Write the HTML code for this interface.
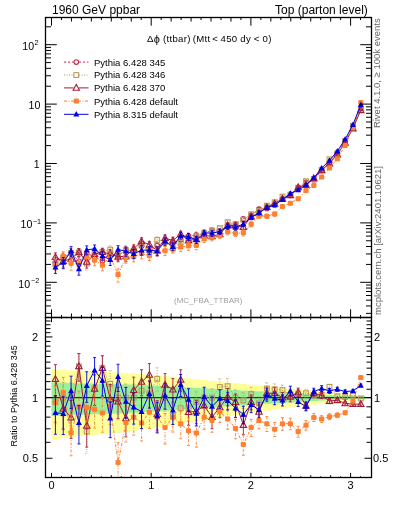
<!DOCTYPE html><html><head><meta charset="utf-8"><style>html,body{margin:0;padding:0;background:#fff;overflow:hidden;}svg{display:block;will-change:transform;}text{font-family:"Liberation Sans",sans-serif;}</style></head><body>
<svg width="393" height="512" viewBox="0 0 393 512">
<defs><clipPath id="cm"><rect x="45.5" y="17.5" width="326" height="300"/></clipPath><clipPath id="cr"><rect x="45.5" y="317.5" width="326" height="160"/></clipPath></defs>
<rect x="51.50" y="369.41" width="8.13" height="70.02" fill="#ffff99" clip-path="url(#cr)"/>
<rect x="59.33" y="370.07" width="8.13" height="67.94" fill="#ffff99" clip-path="url(#cr)"/>
<rect x="67.16" y="370.55" width="8.13" height="66.40" fill="#ffff99" clip-path="url(#cr)"/>
<rect x="74.99" y="370.93" width="8.13" height="65.21" fill="#ffff99" clip-path="url(#cr)"/>
<rect x="82.82" y="371.26" width="8.13" height="64.21" fill="#ffff99" clip-path="url(#cr)"/>
<rect x="90.65" y="371.56" width="8.13" height="63.28" fill="#ffff99" clip-path="url(#cr)"/>
<rect x="98.48" y="371.87" width="8.13" height="62.34" fill="#ffff99" clip-path="url(#cr)"/>
<rect x="106.31" y="372.21" width="8.13" height="61.31" fill="#ffff99" clip-path="url(#cr)"/>
<rect x="114.14" y="372.59" width="8.13" height="60.16" fill="#ffff99" clip-path="url(#cr)"/>
<rect x="121.97" y="373.03" width="8.13" height="58.85" fill="#ffff99" clip-path="url(#cr)"/>
<rect x="129.80" y="373.53" width="8.13" height="57.37" fill="#ffff99" clip-path="url(#cr)"/>
<rect x="137.63" y="374.10" width="8.13" height="55.73" fill="#ffff99" clip-path="url(#cr)"/>
<rect x="145.47" y="374.72" width="8.13" height="53.95" fill="#ffff99" clip-path="url(#cr)"/>
<rect x="153.30" y="375.39" width="8.13" height="52.04" fill="#ffff99" clip-path="url(#cr)"/>
<rect x="161.13" y="376.11" width="8.13" height="50.03" fill="#ffff99" clip-path="url(#cr)"/>
<rect x="168.96" y="376.87" width="8.13" height="47.95" fill="#ffff99" clip-path="url(#cr)"/>
<rect x="176.79" y="377.65" width="8.13" height="45.83" fill="#ffff99" clip-path="url(#cr)"/>
<rect x="184.62" y="378.45" width="8.13" height="43.69" fill="#ffff99" clip-path="url(#cr)"/>
<rect x="192.45" y="379.26" width="8.13" height="41.57" fill="#ffff99" clip-path="url(#cr)"/>
<rect x="200.28" y="380.07" width="8.13" height="39.48" fill="#ffff99" clip-path="url(#cr)"/>
<rect x="208.11" y="380.87" width="8.13" height="37.42" fill="#ffff99" clip-path="url(#cr)"/>
<rect x="215.94" y="381.67" width="8.13" height="35.42" fill="#ffff99" clip-path="url(#cr)"/>
<rect x="223.77" y="382.46" width="8.13" height="33.47" fill="#ffff99" clip-path="url(#cr)"/>
<rect x="231.60" y="383.23" width="8.13" height="31.57" fill="#ffff99" clip-path="url(#cr)"/>
<rect x="239.43" y="383.99" width="8.13" height="29.72" fill="#ffff99" clip-path="url(#cr)"/>
<rect x="247.26" y="384.75" width="8.13" height="27.91" fill="#ffff99" clip-path="url(#cr)"/>
<rect x="255.09" y="385.51" width="8.13" height="26.13" fill="#ffff99" clip-path="url(#cr)"/>
<rect x="262.92" y="386.27" width="8.13" height="24.36" fill="#ffff99" clip-path="url(#cr)"/>
<rect x="270.75" y="387.03" width="8.13" height="22.59" fill="#ffff99" clip-path="url(#cr)"/>
<rect x="278.58" y="387.81" width="8.13" height="20.81" fill="#ffff99" clip-path="url(#cr)"/>
<rect x="286.41" y="388.61" width="8.13" height="19.01" fill="#ffff99" clip-path="url(#cr)"/>
<rect x="294.24" y="389.43" width="8.13" height="17.19" fill="#ffff99" clip-path="url(#cr)"/>
<rect x="302.07" y="390.27" width="8.13" height="15.34" fill="#ffff99" clip-path="url(#cr)"/>
<rect x="309.90" y="391.12" width="8.13" height="13.48" fill="#ffff99" clip-path="url(#cr)"/>
<rect x="317.73" y="391.98" width="8.13" height="11.62" fill="#ffff99" clip-path="url(#cr)"/>
<rect x="325.56" y="392.84" width="8.13" height="9.80" fill="#ffff99" clip-path="url(#cr)"/>
<rect x="333.40" y="393.67" width="8.13" height="8.05" fill="#ffff99" clip-path="url(#cr)"/>
<rect x="341.23" y="394.46" width="8.13" height="6.41" fill="#ffff99" clip-path="url(#cr)"/>
<rect x="349.06" y="395.01" width="8.13" height="5.25" fill="#ffff99" clip-path="url(#cr)"/>
<rect x="356.89" y="395.01" width="8.13" height="5.25" fill="#ffff99" clip-path="url(#cr)"/>
<rect x="51.50" y="382.38" width="8.13" height="33.66" fill="#99f099" clip-path="url(#cr)"/>
<rect x="59.33" y="382.75" width="8.13" height="32.74" fill="#99f099" clip-path="url(#cr)"/>
<rect x="67.16" y="383.04" width="8.13" height="32.05" fill="#99f099" clip-path="url(#cr)"/>
<rect x="74.99" y="383.26" width="8.13" height="31.51" fill="#99f099" clip-path="url(#cr)"/>
<rect x="82.82" y="383.44" width="8.13" height="31.06" fill="#99f099" clip-path="url(#cr)"/>
<rect x="90.65" y="383.61" width="8.13" height="30.64" fill="#99f099" clip-path="url(#cr)"/>
<rect x="98.48" y="383.79" width="8.13" height="30.21" fill="#99f099" clip-path="url(#cr)"/>
<rect x="106.31" y="383.99" width="8.13" height="29.74" fill="#99f099" clip-path="url(#cr)"/>
<rect x="114.14" y="384.21" width="8.13" height="29.22" fill="#99f099" clip-path="url(#cr)"/>
<rect x="121.97" y="384.46" width="8.13" height="28.62" fill="#99f099" clip-path="url(#cr)"/>
<rect x="129.80" y="384.74" width="8.13" height="27.94" fill="#99f099" clip-path="url(#cr)"/>
<rect x="137.63" y="385.06" width="8.13" height="27.18" fill="#99f099" clip-path="url(#cr)"/>
<rect x="145.47" y="385.41" width="8.13" height="26.35" fill="#99f099" clip-path="url(#cr)"/>
<rect x="153.30" y="385.79" width="8.13" height="25.46" fill="#99f099" clip-path="url(#cr)"/>
<rect x="161.13" y="386.20" width="8.13" height="24.51" fill="#99f099" clip-path="url(#cr)"/>
<rect x="168.96" y="386.62" width="8.13" height="23.53" fill="#99f099" clip-path="url(#cr)"/>
<rect x="176.79" y="387.06" width="8.13" height="22.53" fill="#99f099" clip-path="url(#cr)"/>
<rect x="184.62" y="387.50" width="8.13" height="21.51" fill="#99f099" clip-path="url(#cr)"/>
<rect x="192.45" y="387.95" width="8.13" height="20.50" fill="#99f099" clip-path="url(#cr)"/>
<rect x="200.28" y="388.40" width="8.13" height="19.49" fill="#99f099" clip-path="url(#cr)"/>
<rect x="208.11" y="388.84" width="8.13" height="18.50" fill="#99f099" clip-path="url(#cr)"/>
<rect x="215.94" y="389.27" width="8.13" height="17.53" fill="#99f099" clip-path="url(#cr)"/>
<rect x="223.77" y="389.70" width="8.13" height="16.58" fill="#99f099" clip-path="url(#cr)"/>
<rect x="231.60" y="390.12" width="8.13" height="15.66" fill="#99f099" clip-path="url(#cr)"/>
<rect x="239.43" y="390.53" width="8.13" height="14.75" fill="#99f099" clip-path="url(#cr)"/>
<rect x="247.26" y="390.94" width="8.13" height="13.87" fill="#99f099" clip-path="url(#cr)"/>
<rect x="255.09" y="391.35" width="8.13" height="12.99" fill="#99f099" clip-path="url(#cr)"/>
<rect x="262.92" y="391.75" width="8.13" height="12.12" fill="#99f099" clip-path="url(#cr)"/>
<rect x="270.75" y="392.16" width="8.13" height="11.25" fill="#99f099" clip-path="url(#cr)"/>
<rect x="278.58" y="392.57" width="8.13" height="10.37" fill="#99f099" clip-path="url(#cr)"/>
<rect x="286.41" y="392.99" width="8.13" height="9.48" fill="#99f099" clip-path="url(#cr)"/>
<rect x="294.24" y="393.42" width="8.13" height="8.57" fill="#99f099" clip-path="url(#cr)"/>
<rect x="302.07" y="393.86" width="8.13" height="7.65" fill="#99f099" clip-path="url(#cr)"/>
<rect x="309.90" y="394.30" width="8.13" height="6.73" fill="#99f099" clip-path="url(#cr)"/>
<rect x="317.73" y="394.75" width="8.13" height="5.80" fill="#99f099" clip-path="url(#cr)"/>
<rect x="325.56" y="395.19" width="8.13" height="4.90" fill="#99f099" clip-path="url(#cr)"/>
<rect x="333.40" y="395.61" width="8.13" height="4.02" fill="#99f099" clip-path="url(#cr)"/>
<rect x="341.23" y="396.01" width="8.13" height="3.20" fill="#99f099" clip-path="url(#cr)"/>
<rect x="349.06" y="396.30" width="8.13" height="2.63" fill="#99f099" clip-path="url(#cr)"/>
<rect x="356.89" y="396.30" width="8.13" height="2.63" fill="#99f099" clip-path="url(#cr)"/>
<line x1="45.5" y1="397.60" x2="371.5" y2="397.60" stroke="#1a3a1a" stroke-width="1.3"/>
<g clip-path="url(#cm)"><polyline points="55.42,262.63 63.25,257.79 71.08,252.99 78.91,261.51 86.74,253.52 94.57,256.75 102.40,260.62 110.23,253.72 118.06,255.53 125.89,250.17 133.72,250.87 141.55,246.04 149.38,251.38 157.21,245.56 165.04,241.91 172.87,242.89 180.70,239.38 188.53,236.18 196.36,235.15 204.19,233.13 212.02,230.57 219.85,231.31 227.68,225.58 235.51,224.28 243.35,218.94 251.18,215.31 259.01,209.21 266.84,208.44 274.67,204.71 282.50,198.81 290.33,195.49 298.16,188.76 305.99,182.47 313.82,179.67 321.65,170.77 329.48,162.49 337.31,153.66 345.14,141.07 352.97,126.59 360.80,108.31" fill="none" stroke="#c8284f" stroke-width="1.0" stroke-dasharray="2.2,1.8"/><path d="M55.42,257.94V268.37M53.92,257.94h3M53.92,268.37h3" stroke="#c8284f" stroke-width="0.9" stroke-dasharray="2.2,1.8"/><path d="M63.25,253.21V263.35M61.75,253.21h3M61.75,263.35h3" stroke="#c8284f" stroke-width="0.9" stroke-dasharray="2.2,1.8"/><path d="M71.08,248.49V258.43M69.58,248.49h3M69.58,258.43h3" stroke="#c8284f" stroke-width="0.9" stroke-dasharray="2.2,1.8"/><path d="M78.91,257.09V266.85M77.41,257.09h3M77.41,266.85h3" stroke="#c8284f" stroke-width="0.9" stroke-dasharray="2.2,1.8"/><path d="M86.74,249.15V258.77M85.24,249.15h3M85.24,258.77h3" stroke="#c8284f" stroke-width="0.9" stroke-dasharray="2.2,1.8"/><path d="M94.57,252.43V261.93M93.07,252.43h3M93.07,261.93h3" stroke="#c8284f" stroke-width="0.9" stroke-dasharray="2.2,1.8"/><path d="M102.40,256.37V265.73M100.90,256.37h3M100.90,265.73h3" stroke="#c8284f" stroke-width="0.9" stroke-dasharray="2.2,1.8"/><path d="M110.23,249.52V258.74M108.73,249.52h3M108.73,258.74h3" stroke="#c8284f" stroke-width="0.9" stroke-dasharray="2.2,1.8"/><path d="M118.06,251.39V260.45M116.56,251.39h3M116.56,260.45h3" stroke="#c8284f" stroke-width="0.9" stroke-dasharray="2.2,1.8"/><path d="M125.89,246.11V254.98M124.39,246.11h3M124.39,254.98h3" stroke="#c8284f" stroke-width="0.9" stroke-dasharray="2.2,1.8"/><path d="M133.72,246.90V255.56M132.22,246.90h3M132.22,255.56h3" stroke="#c8284f" stroke-width="0.9" stroke-dasharray="2.2,1.8"/><path d="M141.55,242.17V250.59M140.05,242.17h3M140.05,250.59h3" stroke="#c8284f" stroke-width="0.9" stroke-dasharray="2.2,1.8"/><path d="M149.38,247.63V255.79M147.88,247.63h3M147.88,255.79h3" stroke="#c8284f" stroke-width="0.9" stroke-dasharray="2.2,1.8"/><path d="M157.21,241.92V249.81M155.71,241.92h3M155.71,249.81h3" stroke="#c8284f" stroke-width="0.9" stroke-dasharray="2.2,1.8"/><path d="M165.04,238.39V245.99M163.54,238.39h3M163.54,245.99h3" stroke="#c8284f" stroke-width="0.9" stroke-dasharray="2.2,1.8"/><path d="M172.87,239.50V246.79M171.37,239.50h3M171.37,246.79h3" stroke="#c8284f" stroke-width="0.9" stroke-dasharray="2.2,1.8"/><path d="M180.70,236.13V243.11M179.20,236.13h3M179.20,243.11h3" stroke="#c8284f" stroke-width="0.9" stroke-dasharray="2.2,1.8"/><path d="M188.53,233.06V239.72M187.03,233.06h3M187.03,239.72h3" stroke="#c8284f" stroke-width="0.9" stroke-dasharray="2.2,1.8"/><path d="M196.36,232.17V238.52M194.86,232.17h3M194.86,238.52h3" stroke="#c8284f" stroke-width="0.9" stroke-dasharray="2.2,1.8"/><path d="M204.19,230.29V236.32M202.69,230.29h3M202.69,236.32h3" stroke="#c8284f" stroke-width="0.9" stroke-dasharray="2.2,1.8"/><path d="M212.02,227.86V233.59M210.52,227.86h3M210.52,233.59h3" stroke="#c8284f" stroke-width="0.9" stroke-dasharray="2.2,1.8"/><path d="M219.85,228.74V234.17M218.35,228.74h3M218.35,234.17h3" stroke="#c8284f" stroke-width="0.9" stroke-dasharray="2.2,1.8"/><path d="M227.68,223.14V228.28M226.18,223.14h3M226.18,228.28h3" stroke="#c8284f" stroke-width="0.9" stroke-dasharray="2.2,1.8"/><path d="M235.51,221.97V226.82M234.01,221.97h3M234.01,226.82h3" stroke="#c8284f" stroke-width="0.9" stroke-dasharray="2.2,1.8"/><path d="M243.35,216.75V221.32M241.85,216.75h3M241.85,221.32h3" stroke="#c8284f" stroke-width="0.9" stroke-dasharray="2.2,1.8"/><path d="M251.18,213.25V217.54M249.68,213.25h3M249.68,217.54h3" stroke="#c8284f" stroke-width="0.9" stroke-dasharray="2.2,1.8"/><path d="M259.01,207.27V211.30M257.51,207.27h3M257.51,211.30h3" stroke="#c8284f" stroke-width="0.9" stroke-dasharray="2.2,1.8"/><path d="M266.84,206.63V210.38M265.34,206.63h3M265.34,210.38h3" stroke="#c8284f" stroke-width="0.9" stroke-dasharray="2.2,1.8"/><path d="M274.67,203.03V206.51M273.17,203.03h3M273.17,206.51h3" stroke="#c8284f" stroke-width="0.9" stroke-dasharray="2.2,1.8"/><path d="M282.50,197.26V200.47M281.00,197.26h3M281.00,200.47h3" stroke="#c8284f" stroke-width="0.9" stroke-dasharray="2.2,1.8"/><path d="M290.33,194.06V196.99M288.83,194.06h3M288.83,196.99h3" stroke="#c8284f" stroke-width="0.9" stroke-dasharray="2.2,1.8"/><path d="M298.16,187.47V190.12M296.66,187.47h3M296.66,190.12h3" stroke="#c8284f" stroke-width="0.9" stroke-dasharray="2.2,1.8"/><path d="M305.99,181.31V183.68M304.49,181.31h3M304.49,183.68h3" stroke="#c8284f" stroke-width="0.9" stroke-dasharray="2.2,1.8"/><path d="M313.82,178.65V180.73M312.32,178.65h3M312.32,180.73h3" stroke="#c8284f" stroke-width="0.9" stroke-dasharray="2.2,1.8"/><path d="M321.65,169.89V171.68M320.15,169.89h3M320.15,171.68h3" stroke="#c8284f" stroke-width="0.9" stroke-dasharray="2.2,1.8"/><path d="M329.48,161.74V163.25M327.98,161.74h3M327.98,163.25h3" stroke="#c8284f" stroke-width="0.9" stroke-dasharray="2.2,1.8"/><path d="M337.31,153.04V154.29M335.81,153.04h3M335.81,154.29h3" stroke="#c8284f" stroke-width="0.9" stroke-dasharray="2.2,1.8"/><path d="M345.14,140.58V141.57M343.64,140.58h3M343.64,141.57h3" stroke="#c8284f" stroke-width="0.9" stroke-dasharray="2.2,1.8"/><path d="M352.97,126.18V126.99M351.47,126.18h3M351.47,126.99h3" stroke="#c8284f" stroke-width="0.9" stroke-dasharray="2.2,1.8"/><path d="M360.80,107.90V108.71M359.30,107.90h3M359.30,108.71h3" stroke="#c8284f" stroke-width="0.9" stroke-dasharray="2.2,1.8"/><circle cx="55.42" cy="262.63" r="2.3" fill="none" stroke="#c8284f" stroke-width="1.1"/><circle cx="63.25" cy="257.79" r="2.3" fill="none" stroke="#c8284f" stroke-width="1.1"/><circle cx="71.08" cy="252.99" r="2.3" fill="none" stroke="#c8284f" stroke-width="1.1"/><circle cx="78.91" cy="261.51" r="2.3" fill="none" stroke="#c8284f" stroke-width="1.1"/><circle cx="86.74" cy="253.52" r="2.3" fill="none" stroke="#c8284f" stroke-width="1.1"/><circle cx="94.57" cy="256.75" r="2.3" fill="none" stroke="#c8284f" stroke-width="1.1"/><circle cx="102.40" cy="260.62" r="2.3" fill="none" stroke="#c8284f" stroke-width="1.1"/><circle cx="110.23" cy="253.72" r="2.3" fill="none" stroke="#c8284f" stroke-width="1.1"/><circle cx="118.06" cy="255.53" r="2.3" fill="none" stroke="#c8284f" stroke-width="1.1"/><circle cx="125.89" cy="250.17" r="2.3" fill="none" stroke="#c8284f" stroke-width="1.1"/><circle cx="133.72" cy="250.87" r="2.3" fill="none" stroke="#c8284f" stroke-width="1.1"/><circle cx="141.55" cy="246.04" r="2.3" fill="none" stroke="#c8284f" stroke-width="1.1"/><circle cx="149.38" cy="251.38" r="2.3" fill="none" stroke="#c8284f" stroke-width="1.1"/><circle cx="157.21" cy="245.56" r="2.3" fill="none" stroke="#c8284f" stroke-width="1.1"/><circle cx="165.04" cy="241.91" r="2.3" fill="none" stroke="#c8284f" stroke-width="1.1"/><circle cx="172.87" cy="242.89" r="2.3" fill="none" stroke="#c8284f" stroke-width="1.1"/><circle cx="180.70" cy="239.38" r="2.3" fill="none" stroke="#c8284f" stroke-width="1.1"/><circle cx="188.53" cy="236.18" r="2.3" fill="none" stroke="#c8284f" stroke-width="1.1"/><circle cx="196.36" cy="235.15" r="2.3" fill="none" stroke="#c8284f" stroke-width="1.1"/><circle cx="204.19" cy="233.13" r="2.3" fill="none" stroke="#c8284f" stroke-width="1.1"/><circle cx="212.02" cy="230.57" r="2.3" fill="none" stroke="#c8284f" stroke-width="1.1"/><circle cx="219.85" cy="231.31" r="2.3" fill="none" stroke="#c8284f" stroke-width="1.1"/><circle cx="227.68" cy="225.58" r="2.3" fill="none" stroke="#c8284f" stroke-width="1.1"/><circle cx="235.51" cy="224.28" r="2.3" fill="none" stroke="#c8284f" stroke-width="1.1"/><circle cx="243.35" cy="218.94" r="2.3" fill="none" stroke="#c8284f" stroke-width="1.1"/><circle cx="251.18" cy="215.31" r="2.3" fill="none" stroke="#c8284f" stroke-width="1.1"/><circle cx="259.01" cy="209.21" r="2.3" fill="none" stroke="#c8284f" stroke-width="1.1"/><circle cx="266.84" cy="208.44" r="2.3" fill="none" stroke="#c8284f" stroke-width="1.1"/><circle cx="274.67" cy="204.71" r="2.3" fill="none" stroke="#c8284f" stroke-width="1.1"/><circle cx="282.50" cy="198.81" r="2.3" fill="none" stroke="#c8284f" stroke-width="1.1"/><circle cx="290.33" cy="195.49" r="2.3" fill="none" stroke="#c8284f" stroke-width="1.1"/><circle cx="298.16" cy="188.76" r="2.3" fill="none" stroke="#c8284f" stroke-width="1.1"/><circle cx="305.99" cy="182.47" r="2.3" fill="none" stroke="#c8284f" stroke-width="1.1"/><circle cx="313.82" cy="179.67" r="2.3" fill="none" stroke="#c8284f" stroke-width="1.1"/><circle cx="321.65" cy="170.77" r="2.3" fill="none" stroke="#c8284f" stroke-width="1.1"/><circle cx="329.48" cy="162.49" r="2.3" fill="none" stroke="#c8284f" stroke-width="1.1"/><circle cx="337.31" cy="153.66" r="2.3" fill="none" stroke="#c8284f" stroke-width="1.1"/><circle cx="345.14" cy="141.07" r="2.3" fill="none" stroke="#c8284f" stroke-width="1.1"/><circle cx="352.97" cy="126.59" r="2.3" fill="none" stroke="#c8284f" stroke-width="1.1"/><circle cx="360.80" cy="108.31" r="2.3" fill="none" stroke="#c8284f" stroke-width="1.1"/></g>
<g clip-path="url(#cm)"><polyline points="55.42,263.96 63.25,257.79 71.08,252.99 78.91,252.29 86.74,263.54 94.57,254.17 102.40,251.94 110.23,249.67 118.06,255.53 125.89,250.17 133.72,250.87 141.55,243.98 149.38,250.13 157.21,240.04 165.04,241.91 172.87,248.32 180.70,242.51 188.53,239.30 196.36,236.47 204.19,233.13 212.02,230.57 219.85,228.21 227.68,222.22 235.51,224.28 243.35,219.72 251.18,214.27 259.01,210.91 266.84,205.77 274.67,202.26 282.50,196.59 290.33,194.72 298.16,187.75 305.99,181.18 313.82,178.91 321.65,170.01 329.48,159.31 337.31,153.27 345.14,140.92 352.97,125.75 360.80,108.56" fill="none" stroke="#bb9a5c" stroke-width="1.0" stroke-dasharray="1,1.5"/><path d="M55.42,259.15V269.86M53.92,259.15h3M53.92,269.86h3" stroke="#bb9a5c" stroke-width="0.9" stroke-dasharray="1,1.5"/><path d="M63.25,253.21V263.35M61.75,253.21h3M61.75,263.35h3" stroke="#bb9a5c" stroke-width="0.9" stroke-dasharray="1,1.5"/><path d="M71.08,248.49V258.43M69.58,248.49h3M69.58,258.43h3" stroke="#bb9a5c" stroke-width="0.9" stroke-dasharray="1,1.5"/><path d="M78.91,248.54V256.67M77.41,248.54h3M77.41,256.67h3" stroke="#bb9a5c" stroke-width="0.9" stroke-dasharray="1,1.5"/><path d="M86.74,258.33V270.08M85.24,258.33h3M85.24,270.08h3" stroke="#bb9a5c" stroke-width="0.9" stroke-dasharray="1,1.5"/><path d="M94.57,250.05V259.07M93.07,250.05h3M93.07,259.07h3" stroke="#bb9a5c" stroke-width="0.9" stroke-dasharray="1,1.5"/><path d="M102.40,248.30V256.19M100.90,248.30h3M100.90,256.19h3" stroke="#bb9a5c" stroke-width="0.9" stroke-dasharray="1,1.5"/><path d="M110.23,245.76V254.27M108.73,245.76h3M108.73,254.27h3" stroke="#bb9a5c" stroke-width="0.9" stroke-dasharray="1,1.5"/><path d="M118.06,251.39V260.45M116.56,251.39h3M116.56,260.45h3" stroke="#bb9a5c" stroke-width="0.9" stroke-dasharray="1,1.5"/><path d="M125.89,246.11V254.98M124.39,246.11h3M124.39,254.98h3" stroke="#bb9a5c" stroke-width="0.9" stroke-dasharray="1,1.5"/><path d="M133.72,246.90V255.56M132.22,246.90h3M132.22,255.56h3" stroke="#bb9a5c" stroke-width="0.9" stroke-dasharray="1,1.5"/><path d="M141.55,240.25V248.34M140.05,240.25h3M140.05,248.34h3" stroke="#bb9a5c" stroke-width="0.9" stroke-dasharray="1,1.5"/><path d="M149.38,246.45V254.41M147.88,246.45h3M147.88,254.41h3" stroke="#bb9a5c" stroke-width="0.9" stroke-dasharray="1,1.5"/><path d="M157.21,236.74V243.81M155.71,236.74h3M155.71,243.81h3" stroke="#bb9a5c" stroke-width="0.9" stroke-dasharray="1,1.5"/><path d="M165.04,238.39V245.99M163.54,238.39h3M163.54,245.99h3" stroke="#bb9a5c" stroke-width="0.9" stroke-dasharray="1,1.5"/><path d="M172.87,244.59V252.70M171.37,244.59h3M171.37,252.70h3" stroke="#bb9a5c" stroke-width="0.9" stroke-dasharray="1,1.5"/><path d="M180.70,239.06V246.48M179.20,239.06h3M179.20,246.48h3" stroke="#bb9a5c" stroke-width="0.9" stroke-dasharray="1,1.5"/><path d="M188.53,236.00V243.08M187.03,236.00h3M187.03,243.08h3" stroke="#bb9a5c" stroke-width="0.9" stroke-dasharray="1,1.5"/><path d="M196.36,233.42V239.93M194.86,233.42h3M194.86,239.93h3" stroke="#bb9a5c" stroke-width="0.9" stroke-dasharray="1,1.5"/><path d="M204.19,230.29V236.32M202.69,230.29h3M202.69,236.32h3" stroke="#bb9a5c" stroke-width="0.9" stroke-dasharray="1,1.5"/><path d="M212.02,227.86V233.59M210.52,227.86h3M210.52,233.59h3" stroke="#bb9a5c" stroke-width="0.9" stroke-dasharray="1,1.5"/><path d="M219.85,225.78V230.89M218.35,225.78h3M218.35,230.89h3" stroke="#bb9a5c" stroke-width="0.9" stroke-dasharray="1,1.5"/><path d="M227.68,219.93V224.74M226.18,219.93h3M226.18,224.74h3" stroke="#bb9a5c" stroke-width="0.9" stroke-dasharray="1,1.5"/><path d="M235.51,221.97V226.82M234.01,221.97h3M234.01,226.82h3" stroke="#bb9a5c" stroke-width="0.9" stroke-dasharray="1,1.5"/><path d="M243.35,217.51V222.15M241.85,217.51h3M241.85,222.15h3" stroke="#bb9a5c" stroke-width="0.9" stroke-dasharray="1,1.5"/><path d="M251.18,212.25V216.46M249.68,212.25h3M249.68,216.46h3" stroke="#bb9a5c" stroke-width="0.9" stroke-dasharray="1,1.5"/><path d="M259.01,208.92V213.08M257.51,208.92h3M257.51,213.08h3" stroke="#bb9a5c" stroke-width="0.9" stroke-dasharray="1,1.5"/><path d="M266.84,204.05V207.61M265.34,204.05h3M265.34,207.61h3" stroke="#bb9a5c" stroke-width="0.9" stroke-dasharray="1,1.5"/><path d="M274.67,200.65V203.97M273.17,200.65h3M273.17,203.97h3" stroke="#bb9a5c" stroke-width="0.9" stroke-dasharray="1,1.5"/><path d="M282.50,195.10V198.17M281.00,195.10h3M281.00,198.17h3" stroke="#bb9a5c" stroke-width="0.9" stroke-dasharray="1,1.5"/><path d="M290.33,193.32V196.21M288.83,193.32h3M288.83,196.21h3" stroke="#bb9a5c" stroke-width="0.9" stroke-dasharray="1,1.5"/><path d="M298.16,186.48V189.08M296.66,186.48h3M296.66,189.08h3" stroke="#bb9a5c" stroke-width="0.9" stroke-dasharray="1,1.5"/><path d="M305.99,180.05V182.37M304.49,180.05h3M304.49,182.37h3" stroke="#bb9a5c" stroke-width="0.9" stroke-dasharray="1,1.5"/><path d="M313.82,177.90V179.95M312.32,177.90h3M312.32,179.95h3" stroke="#bb9a5c" stroke-width="0.9" stroke-dasharray="1,1.5"/><path d="M321.65,169.14V170.91M320.15,169.14h3M320.15,170.91h3" stroke="#bb9a5c" stroke-width="0.9" stroke-dasharray="1,1.5"/><path d="M329.48,158.61V160.03M327.98,158.61h3M327.98,160.03h3" stroke="#bb9a5c" stroke-width="0.9" stroke-dasharray="1,1.5"/><path d="M337.31,152.66V153.90M335.81,152.66h3M335.81,153.90h3" stroke="#bb9a5c" stroke-width="0.9" stroke-dasharray="1,1.5"/><path d="M345.14,140.43V141.41M343.64,140.43h3M343.64,141.41h3" stroke="#bb9a5c" stroke-width="0.9" stroke-dasharray="1,1.5"/><path d="M352.97,125.35V126.15M351.47,125.35h3M351.47,126.15h3" stroke="#bb9a5c" stroke-width="0.9" stroke-dasharray="1,1.5"/><path d="M360.80,108.16V108.98M359.30,108.16h3M359.30,108.98h3" stroke="#bb9a5c" stroke-width="0.9" stroke-dasharray="1,1.5"/><rect x="53.02" y="261.56" width="4.8" height="4.8" fill="none" stroke="#bb9a5c" stroke-width="1.1"/><rect x="60.85" y="255.39" width="4.8" height="4.8" fill="none" stroke="#bb9a5c" stroke-width="1.1"/><rect x="68.68" y="250.59" width="4.8" height="4.8" fill="none" stroke="#bb9a5c" stroke-width="1.1"/><rect x="76.51" y="249.89" width="4.8" height="4.8" fill="none" stroke="#bb9a5c" stroke-width="1.1"/><rect x="84.34" y="261.14" width="4.8" height="4.8" fill="none" stroke="#bb9a5c" stroke-width="1.1"/><rect x="92.17" y="251.77" width="4.8" height="4.8" fill="none" stroke="#bb9a5c" stroke-width="1.1"/><rect x="100.00" y="249.54" width="4.8" height="4.8" fill="none" stroke="#bb9a5c" stroke-width="1.1"/><rect x="107.83" y="247.27" width="4.8" height="4.8" fill="none" stroke="#bb9a5c" stroke-width="1.1"/><rect x="115.66" y="253.13" width="4.8" height="4.8" fill="none" stroke="#bb9a5c" stroke-width="1.1"/><rect x="123.49" y="247.77" width="4.8" height="4.8" fill="none" stroke="#bb9a5c" stroke-width="1.1"/><rect x="131.32" y="248.47" width="4.8" height="4.8" fill="none" stroke="#bb9a5c" stroke-width="1.1"/><rect x="139.15" y="241.58" width="4.8" height="4.8" fill="none" stroke="#bb9a5c" stroke-width="1.1"/><rect x="146.98" y="247.73" width="4.8" height="4.8" fill="none" stroke="#bb9a5c" stroke-width="1.1"/><rect x="154.81" y="237.64" width="4.8" height="4.8" fill="none" stroke="#bb9a5c" stroke-width="1.1"/><rect x="162.64" y="239.51" width="4.8" height="4.8" fill="none" stroke="#bb9a5c" stroke-width="1.1"/><rect x="170.47" y="245.92" width="4.8" height="4.8" fill="none" stroke="#bb9a5c" stroke-width="1.1"/><rect x="178.30" y="240.11" width="4.8" height="4.8" fill="none" stroke="#bb9a5c" stroke-width="1.1"/><rect x="186.13" y="236.90" width="4.8" height="4.8" fill="none" stroke="#bb9a5c" stroke-width="1.1"/><rect x="193.96" y="234.07" width="4.8" height="4.8" fill="none" stroke="#bb9a5c" stroke-width="1.1"/><rect x="201.79" y="230.73" width="4.8" height="4.8" fill="none" stroke="#bb9a5c" stroke-width="1.1"/><rect x="209.62" y="228.17" width="4.8" height="4.8" fill="none" stroke="#bb9a5c" stroke-width="1.1"/><rect x="217.45" y="225.81" width="4.8" height="4.8" fill="none" stroke="#bb9a5c" stroke-width="1.1"/><rect x="225.28" y="219.82" width="4.8" height="4.8" fill="none" stroke="#bb9a5c" stroke-width="1.1"/><rect x="233.11" y="221.88" width="4.8" height="4.8" fill="none" stroke="#bb9a5c" stroke-width="1.1"/><rect x="240.95" y="217.32" width="4.8" height="4.8" fill="none" stroke="#bb9a5c" stroke-width="1.1"/><rect x="248.78" y="211.87" width="4.8" height="4.8" fill="none" stroke="#bb9a5c" stroke-width="1.1"/><rect x="256.61" y="208.51" width="4.8" height="4.8" fill="none" stroke="#bb9a5c" stroke-width="1.1"/><rect x="264.44" y="203.37" width="4.8" height="4.8" fill="none" stroke="#bb9a5c" stroke-width="1.1"/><rect x="272.27" y="199.86" width="4.8" height="4.8" fill="none" stroke="#bb9a5c" stroke-width="1.1"/><rect x="280.10" y="194.19" width="4.8" height="4.8" fill="none" stroke="#bb9a5c" stroke-width="1.1"/><rect x="287.93" y="192.32" width="4.8" height="4.8" fill="none" stroke="#bb9a5c" stroke-width="1.1"/><rect x="295.76" y="185.35" width="4.8" height="4.8" fill="none" stroke="#bb9a5c" stroke-width="1.1"/><rect x="303.59" y="178.78" width="4.8" height="4.8" fill="none" stroke="#bb9a5c" stroke-width="1.1"/><rect x="311.42" y="176.51" width="4.8" height="4.8" fill="none" stroke="#bb9a5c" stroke-width="1.1"/><rect x="319.25" y="167.61" width="4.8" height="4.8" fill="none" stroke="#bb9a5c" stroke-width="1.1"/><rect x="327.08" y="156.91" width="4.8" height="4.8" fill="none" stroke="#bb9a5c" stroke-width="1.1"/><rect x="334.91" y="150.87" width="4.8" height="4.8" fill="none" stroke="#bb9a5c" stroke-width="1.1"/><rect x="342.74" y="138.52" width="4.8" height="4.8" fill="none" stroke="#bb9a5c" stroke-width="1.1"/><rect x="350.57" y="123.35" width="4.8" height="4.8" fill="none" stroke="#bb9a5c" stroke-width="1.1"/><rect x="358.40" y="106.16" width="4.8" height="4.8" fill="none" stroke="#bb9a5c" stroke-width="1.1"/></g>
<g clip-path="url(#cm)"><polyline points="55.42,257.17 63.25,261.08 71.08,258.84 78.91,252.29 86.74,261.81 94.57,254.17 102.40,251.94 110.23,254.08 118.06,256.71 125.89,256.25 133.72,248.64 141.55,241.38 149.38,244.70 157.21,250.43 165.04,238.13 172.87,240.52 180.70,234.15 188.53,240.46 196.36,239.19 204.19,235.51 212.02,236.32 219.85,234.18 227.68,225.35 235.51,225.60 243.35,227.02 251.18,216.63 259.01,213.40 266.84,207.15 274.67,203.43 282.50,198.81 290.33,195.23 298.16,187.23 305.99,184.87 313.82,178.41 321.65,170.16 329.48,163.48 337.31,154.44 345.14,142.78 352.97,128.51 360.80,110.23" fill="none" stroke="#a01e3c" stroke-width="1.0"/><path d="M55.42,252.91V262.27M53.92,252.91h3M53.92,262.27h3" stroke="#a01e3c" stroke-width="0.9"/><path d="M63.25,256.23V267.07M61.75,256.23h3M61.75,267.07h3" stroke="#a01e3c" stroke-width="0.9"/><path d="M71.08,253.86V265.02M69.58,253.86h3M69.58,265.02h3" stroke="#a01e3c" stroke-width="0.9"/><path d="M78.91,248.54V256.67M77.41,248.54h3M77.41,256.67h3" stroke="#a01e3c" stroke-width="0.9"/><path d="M86.74,256.75V268.11M85.24,256.75h3M85.24,268.11h3" stroke="#a01e3c" stroke-width="0.9"/><path d="M94.57,250.05V259.07M93.07,250.05h3M93.07,259.07h3" stroke="#a01e3c" stroke-width="0.9"/><path d="M102.40,248.30V256.19M100.90,248.30h3M100.90,256.19h3" stroke="#a01e3c" stroke-width="0.9"/><path d="M110.23,249.86V259.14M108.73,249.86h3M108.73,259.14h3" stroke="#a01e3c" stroke-width="0.9"/><path d="M118.06,252.49V261.76M116.56,252.49h3M116.56,261.76h3" stroke="#a01e3c" stroke-width="0.9"/><path d="M125.89,251.73V261.73M124.39,251.73h3M124.39,261.73h3" stroke="#a01e3c" stroke-width="0.9"/><path d="M133.72,244.83V253.12M132.22,244.83h3M132.22,253.12h3" stroke="#a01e3c" stroke-width="0.9"/><path d="M141.55,237.82V245.50M140.05,237.82h3M140.05,245.50h3" stroke="#a01e3c" stroke-width="0.9"/><path d="M149.38,241.37V248.52M147.88,241.37h3M147.88,248.52h3" stroke="#a01e3c" stroke-width="0.9"/><path d="M157.21,246.46V255.14M155.71,246.46h3M155.71,255.14h3" stroke="#a01e3c" stroke-width="0.9"/><path d="M165.04,234.84V241.89M163.54,234.84h3M163.54,241.89h3" stroke="#a01e3c" stroke-width="0.9"/><path d="M172.87,237.28V244.24M171.37,237.28h3M171.37,244.24h3" stroke="#a01e3c" stroke-width="0.9"/><path d="M180.70,231.19V237.49M179.20,231.19h3M179.20,237.49h3" stroke="#a01e3c" stroke-width="0.9"/><path d="M188.53,237.09V244.34M187.03,237.09h3M187.03,244.34h3" stroke="#a01e3c" stroke-width="0.9"/><path d="M196.36,235.98V242.85M194.86,235.98h3M194.86,242.85h3" stroke="#a01e3c" stroke-width="0.9"/><path d="M204.19,232.54V238.86M202.69,232.54h3M202.69,238.86h3" stroke="#a01e3c" stroke-width="0.9"/><path d="M212.02,233.32V239.73M210.52,233.32h3M210.52,239.73h3" stroke="#a01e3c" stroke-width="0.9"/><path d="M219.85,231.47V237.21M218.35,231.47h3M218.35,237.21h3" stroke="#a01e3c" stroke-width="0.9"/><path d="M227.68,222.92V228.03M226.18,222.92h3M226.18,228.03h3" stroke="#a01e3c" stroke-width="0.9"/><path d="M235.51,223.23V228.21M234.01,223.23h3M234.01,228.21h3" stroke="#a01e3c" stroke-width="0.9"/><path d="M243.35,224.48V229.83M241.85,224.48h3M241.85,229.83h3" stroke="#a01e3c" stroke-width="0.9"/><path d="M251.18,214.52V218.92M249.68,214.52h3M249.68,218.92h3" stroke="#a01e3c" stroke-width="0.9"/><path d="M259.01,211.31V215.67M257.51,211.31h3M257.51,215.67h3" stroke="#a01e3c" stroke-width="0.9"/><path d="M266.84,205.39V209.05M265.34,205.39h3M265.34,209.05h3" stroke="#a01e3c" stroke-width="0.9"/><path d="M274.67,201.79V205.19M273.17,201.79h3M273.17,205.19h3" stroke="#a01e3c" stroke-width="0.9"/><path d="M282.50,197.26V200.47M281.00,197.26h3M281.00,200.47h3" stroke="#a01e3c" stroke-width="0.9"/><path d="M290.33,193.81V196.73M288.83,193.81h3M288.83,196.73h3" stroke="#a01e3c" stroke-width="0.9"/><path d="M298.16,185.97V188.55M296.66,185.97h3M296.66,188.55h3" stroke="#a01e3c" stroke-width="0.9"/><path d="M305.99,183.66V186.14M304.49,183.66h3M304.49,186.14h3" stroke="#a01e3c" stroke-width="0.9"/><path d="M313.82,177.41V179.45M312.32,177.41h3M312.32,179.45h3" stroke="#a01e3c" stroke-width="0.9"/><path d="M321.65,169.28V171.06M320.15,169.28h3M320.15,171.06h3" stroke="#a01e3c" stroke-width="0.9"/><path d="M329.48,162.72V164.27M327.98,162.72h3M327.98,164.27h3" stroke="#a01e3c" stroke-width="0.9"/><path d="M337.31,153.82V155.08M335.81,153.82h3M335.81,155.08h3" stroke="#a01e3c" stroke-width="0.9"/><path d="M345.14,142.27V143.29M343.64,142.27h3M343.64,143.29h3" stroke="#a01e3c" stroke-width="0.9"/><path d="M352.97,128.09V128.94M351.47,128.09h3M351.47,128.94h3" stroke="#a01e3c" stroke-width="0.9"/><path d="M360.80,109.81V110.66M359.30,109.81h3M359.30,110.66h3" stroke="#a01e3c" stroke-width="0.9"/><path d="M55.42,253.77 L58.62,259.57 L52.22,259.57 Z" fill="none" stroke="#a01e3c" stroke-width="1.1"/><path d="M63.25,257.68 L66.45,263.48 L60.05,263.48 Z" fill="none" stroke="#a01e3c" stroke-width="1.1"/><path d="M71.08,255.44 L74.28,261.24 L67.88,261.24 Z" fill="none" stroke="#a01e3c" stroke-width="1.1"/><path d="M78.91,248.89 L82.11,254.69 L75.71,254.69 Z" fill="none" stroke="#a01e3c" stroke-width="1.1"/><path d="M86.74,258.41 L89.94,264.21 L83.54,264.21 Z" fill="none" stroke="#a01e3c" stroke-width="1.1"/><path d="M94.57,250.77 L97.77,256.57 L91.37,256.57 Z" fill="none" stroke="#a01e3c" stroke-width="1.1"/><path d="M102.40,248.54 L105.60,254.34 L99.20,254.34 Z" fill="none" stroke="#a01e3c" stroke-width="1.1"/><path d="M110.23,250.68 L113.43,256.48 L107.03,256.48 Z" fill="none" stroke="#a01e3c" stroke-width="1.1"/><path d="M118.06,253.31 L121.26,259.11 L114.86,259.11 Z" fill="none" stroke="#a01e3c" stroke-width="1.1"/><path d="M125.89,252.85 L129.09,258.65 L122.69,258.65 Z" fill="none" stroke="#a01e3c" stroke-width="1.1"/><path d="M133.72,245.24 L136.92,251.04 L130.52,251.04 Z" fill="none" stroke="#a01e3c" stroke-width="1.1"/><path d="M141.55,237.98 L144.75,243.78 L138.35,243.78 Z" fill="none" stroke="#a01e3c" stroke-width="1.1"/><path d="M149.38,241.30 L152.58,247.10 L146.18,247.10 Z" fill="none" stroke="#a01e3c" stroke-width="1.1"/><path d="M157.21,247.03 L160.41,252.83 L154.01,252.83 Z" fill="none" stroke="#a01e3c" stroke-width="1.1"/><path d="M165.04,234.73 L168.24,240.53 L161.84,240.53 Z" fill="none" stroke="#a01e3c" stroke-width="1.1"/><path d="M172.87,237.12 L176.07,242.92 L169.67,242.92 Z" fill="none" stroke="#a01e3c" stroke-width="1.1"/><path d="M180.70,230.75 L183.90,236.55 L177.50,236.55 Z" fill="none" stroke="#a01e3c" stroke-width="1.1"/><path d="M188.53,237.06 L191.73,242.86 L185.33,242.86 Z" fill="none" stroke="#a01e3c" stroke-width="1.1"/><path d="M196.36,235.79 L199.56,241.59 L193.16,241.59 Z" fill="none" stroke="#a01e3c" stroke-width="1.1"/><path d="M204.19,232.11 L207.39,237.91 L200.99,237.91 Z" fill="none" stroke="#a01e3c" stroke-width="1.1"/><path d="M212.02,232.92 L215.22,238.72 L208.82,238.72 Z" fill="none" stroke="#a01e3c" stroke-width="1.1"/><path d="M219.85,230.78 L223.05,236.58 L216.65,236.58 Z" fill="none" stroke="#a01e3c" stroke-width="1.1"/><path d="M227.68,221.95 L230.88,227.75 L224.48,227.75 Z" fill="none" stroke="#a01e3c" stroke-width="1.1"/><path d="M235.51,222.20 L238.71,228.00 L232.31,228.00 Z" fill="none" stroke="#a01e3c" stroke-width="1.1"/><path d="M243.35,223.62 L246.55,229.42 L240.15,229.42 Z" fill="none" stroke="#a01e3c" stroke-width="1.1"/><path d="M251.18,213.23 L254.38,219.03 L247.98,219.03 Z" fill="none" stroke="#a01e3c" stroke-width="1.1"/><path d="M259.01,210.00 L262.21,215.80 L255.81,215.80 Z" fill="none" stroke="#a01e3c" stroke-width="1.1"/><path d="M266.84,203.75 L270.04,209.55 L263.64,209.55 Z" fill="none" stroke="#a01e3c" stroke-width="1.1"/><path d="M274.67,200.03 L277.87,205.83 L271.47,205.83 Z" fill="none" stroke="#a01e3c" stroke-width="1.1"/><path d="M282.50,195.41 L285.70,201.21 L279.30,201.21 Z" fill="none" stroke="#a01e3c" stroke-width="1.1"/><path d="M290.33,191.83 L293.53,197.63 L287.13,197.63 Z" fill="none" stroke="#a01e3c" stroke-width="1.1"/><path d="M298.16,183.83 L301.36,189.63 L294.96,189.63 Z" fill="none" stroke="#a01e3c" stroke-width="1.1"/><path d="M305.99,181.47 L309.19,187.27 L302.79,187.27 Z" fill="none" stroke="#a01e3c" stroke-width="1.1"/><path d="M313.82,175.01 L317.02,180.81 L310.62,180.81 Z" fill="none" stroke="#a01e3c" stroke-width="1.1"/><path d="M321.65,166.76 L324.85,172.56 L318.45,172.56 Z" fill="none" stroke="#a01e3c" stroke-width="1.1"/><path d="M329.48,160.08 L332.68,165.88 L326.28,165.88 Z" fill="none" stroke="#a01e3c" stroke-width="1.1"/><path d="M337.31,151.04 L340.51,156.84 L334.11,156.84 Z" fill="none" stroke="#a01e3c" stroke-width="1.1"/><path d="M345.14,139.38 L348.34,145.18 L341.94,145.18 Z" fill="none" stroke="#a01e3c" stroke-width="1.1"/><path d="M352.97,125.11 L356.17,130.91 L349.77,130.91 Z" fill="none" stroke="#a01e3c" stroke-width="1.1"/><path d="M360.80,106.83 L364.00,112.63 L357.60,112.63 Z" fill="none" stroke="#a01e3c" stroke-width="1.1"/></g>
<g clip-path="url(#cm)"><polyline points="55.42,264.12 63.25,256.26 71.08,263.32 78.91,264.23 86.74,256.38 94.57,260.16 102.40,265.18 110.23,256.29 118.06,274.62 125.89,257.59 133.72,256.62 141.55,253.49 149.38,255.67 157.21,251.32 165.04,250.71 172.87,248.65 180.70,247.12 188.53,245.94 196.36,245.56 204.19,238.89 212.02,237.31 219.85,235.51 227.68,231.86 235.51,233.37 243.35,232.77 251.18,224.14 259.01,215.98 266.84,216.14 274.67,214.03 282.50,206.51 290.33,203.18 298.16,198.78 305.99,190.62 313.82,185.52 321.65,177.08 329.48,168.11 337.31,158.84 345.14,145.54 352.97,127.58 360.80,102.40" fill="none" stroke="#ff8030" stroke-width="1.0" stroke-dasharray="3,1.5,1,1.5"/><path d="M55.42,259.30V270.05M53.92,259.30h3M53.92,270.05h3" stroke="#ff8030" stroke-width="0.9" stroke-dasharray="3,1.5,1,1.5"/><path d="M63.25,251.80V261.65M61.75,251.80h3M61.75,261.65h3" stroke="#ff8030" stroke-width="0.9" stroke-dasharray="3,1.5,1,1.5"/><path d="M71.08,257.93V270.14M69.58,257.93h3M69.58,270.14h3" stroke="#ff8030" stroke-width="0.9" stroke-dasharray="3,1.5,1,1.5"/><path d="M78.91,259.59V269.90M77.41,259.59h3M77.41,269.90h3" stroke="#ff8030" stroke-width="0.9" stroke-dasharray="3,1.5,1,1.5"/><path d="M86.74,251.78V261.97M85.24,251.78h3M85.24,261.97h3" stroke="#ff8030" stroke-width="0.9" stroke-dasharray="3,1.5,1,1.5"/><path d="M94.57,255.58V265.74M93.07,255.58h3M93.07,265.74h3" stroke="#ff8030" stroke-width="0.9" stroke-dasharray="3,1.5,1,1.5"/><path d="M102.40,260.56V270.81M100.90,260.56h3M100.90,270.81h3" stroke="#ff8030" stroke-width="0.9" stroke-dasharray="3,1.5,1,1.5"/><path d="M110.23,251.90V261.60M108.73,251.90h3M108.73,261.60h3" stroke="#ff8030" stroke-width="0.9" stroke-dasharray="3,1.5,1,1.5"/><path d="M118.06,268.83V282.09M116.56,268.83h3M116.56,282.09h3" stroke="#ff8030" stroke-width="0.9" stroke-dasharray="3,1.5,1,1.5"/><path d="M125.89,252.96V263.23M124.39,252.96h3M124.39,263.23h3" stroke="#ff8030" stroke-width="0.9" stroke-dasharray="3,1.5,1,1.5"/><path d="M133.72,252.23V261.93M132.22,252.23h3M132.22,261.93h3" stroke="#ff8030" stroke-width="0.9" stroke-dasharray="3,1.5,1,1.5"/><path d="M141.55,249.07V258.83M140.05,249.07h3M140.05,258.83h3" stroke="#ff8030" stroke-width="0.9" stroke-dasharray="3,1.5,1,1.5"/><path d="M149.38,251.61V260.49M147.88,251.61h3M147.88,260.49h3" stroke="#ff8030" stroke-width="0.9" stroke-dasharray="3,1.5,1,1.5"/><path d="M157.21,247.28V256.11M155.71,247.28h3M155.71,256.11h3" stroke="#ff8030" stroke-width="0.9" stroke-dasharray="3,1.5,1,1.5"/><path d="M165.04,246.59V255.62M163.54,246.59h3M163.54,255.62h3" stroke="#ff8030" stroke-width="0.9" stroke-dasharray="3,1.5,1,1.5"/><path d="M172.87,244.89V253.05M171.37,244.89h3M171.37,253.05h3" stroke="#ff8030" stroke-width="0.9" stroke-dasharray="3,1.5,1,1.5"/><path d="M180.70,243.37V251.50M179.20,243.37h3M179.20,251.50h3" stroke="#ff8030" stroke-width="0.9" stroke-dasharray="3,1.5,1,1.5"/><path d="M188.53,242.22V250.29M187.03,242.22h3M187.03,250.29h3" stroke="#ff8030" stroke-width="0.9" stroke-dasharray="3,1.5,1,1.5"/><path d="M196.36,241.96V249.74M194.86,241.96h3M194.86,249.74h3" stroke="#ff8030" stroke-width="0.9" stroke-dasharray="3,1.5,1,1.5"/><path d="M204.19,235.73V242.49M202.69,235.73h3M202.69,242.49h3" stroke="#ff8030" stroke-width="0.9" stroke-dasharray="3,1.5,1,1.5"/><path d="M212.02,234.25V240.78M210.52,234.25h3M210.52,240.78h3" stroke="#ff8030" stroke-width="0.9" stroke-dasharray="3,1.5,1,1.5"/><path d="M219.85,232.73V238.62M218.35,232.73h3M218.35,238.62h3" stroke="#ff8030" stroke-width="0.9" stroke-dasharray="3,1.5,1,1.5"/><path d="M227.68,229.12V234.92M226.18,229.12h3M226.18,234.92h3" stroke="#ff8030" stroke-width="0.9" stroke-dasharray="3,1.5,1,1.5"/><path d="M235.51,230.64V236.43M234.01,230.64h3M234.01,236.43h3" stroke="#ff8030" stroke-width="0.9" stroke-dasharray="3,1.5,1,1.5"/><path d="M243.35,229.95V235.93M241.85,229.95h3M241.85,235.93h3" stroke="#ff8030" stroke-width="0.9" stroke-dasharray="3,1.5,1,1.5"/><path d="M251.18,221.72V226.82M249.68,221.72h3M249.68,226.82h3" stroke="#ff8030" stroke-width="0.9" stroke-dasharray="3,1.5,1,1.5"/><path d="M259.01,213.79V218.38M257.51,213.79h3M257.51,218.38h3" stroke="#ff8030" stroke-width="0.9" stroke-dasharray="3,1.5,1,1.5"/><path d="M266.84,214.05V218.41M265.34,214.05h3M265.34,218.41h3" stroke="#ff8030" stroke-width="0.9" stroke-dasharray="3,1.5,1,1.5"/><path d="M274.67,212.02V216.20M273.17,212.02h3M273.17,216.20h3" stroke="#ff8030" stroke-width="0.9" stroke-dasharray="3,1.5,1,1.5"/><path d="M282.50,204.72V208.44M281.00,204.72h3M281.00,208.44h3" stroke="#ff8030" stroke-width="0.9" stroke-dasharray="3,1.5,1,1.5"/><path d="M290.33,201.54V204.94M288.83,201.54h3M288.83,204.94h3" stroke="#ff8030" stroke-width="0.9" stroke-dasharray="3,1.5,1,1.5"/><path d="M298.16,197.22V200.45M296.66,197.22h3M296.66,200.45h3" stroke="#ff8030" stroke-width="0.9" stroke-dasharray="3,1.5,1,1.5"/><path d="M305.99,189.27V192.05M304.49,189.27h3M304.49,192.05h3" stroke="#ff8030" stroke-width="0.9" stroke-dasharray="3,1.5,1,1.5"/><path d="M313.82,184.38V186.72M312.32,184.38h3M312.32,186.72h3" stroke="#ff8030" stroke-width="0.9" stroke-dasharray="3,1.5,1,1.5"/><path d="M321.65,176.08V178.11M320.15,176.08h3M320.15,178.11h3" stroke="#ff8030" stroke-width="0.9" stroke-dasharray="3,1.5,1,1.5"/><path d="M329.48,167.28V168.97M327.98,167.28h3M327.98,168.97h3" stroke="#ff8030" stroke-width="0.9" stroke-dasharray="3,1.5,1,1.5"/><path d="M337.31,158.16V159.54M335.81,158.16h3M335.81,159.54h3" stroke="#ff8030" stroke-width="0.9" stroke-dasharray="3,1.5,1,1.5"/><path d="M345.14,145.00V146.08M343.64,145.00h3M343.64,146.08h3" stroke="#ff8030" stroke-width="0.9" stroke-dasharray="3,1.5,1,1.5"/><path d="M352.97,127.17V128.00M351.47,127.17h3M351.47,128.00h3" stroke="#ff8030" stroke-width="0.9" stroke-dasharray="3,1.5,1,1.5"/><path d="M360.80,102.05V102.77M359.30,102.05h3M359.30,102.77h3" stroke="#ff8030" stroke-width="0.9" stroke-dasharray="3,1.5,1,1.5"/><rect x="52.82" y="261.62" width="5.2" height="5" rx="1.2" fill="#ff8030"/><rect x="60.65" y="253.76" width="5.2" height="5" rx="1.2" fill="#ff8030"/><rect x="68.48" y="260.82" width="5.2" height="5" rx="1.2" fill="#ff8030"/><rect x="76.31" y="261.73" width="5.2" height="5" rx="1.2" fill="#ff8030"/><rect x="84.14" y="253.88" width="5.2" height="5" rx="1.2" fill="#ff8030"/><rect x="91.97" y="257.66" width="5.2" height="5" rx="1.2" fill="#ff8030"/><rect x="99.80" y="262.68" width="5.2" height="5" rx="1.2" fill="#ff8030"/><rect x="107.63" y="253.79" width="5.2" height="5" rx="1.2" fill="#ff8030"/><rect x="115.46" y="272.12" width="5.2" height="5" rx="1.2" fill="#ff8030"/><rect x="123.29" y="255.09" width="5.2" height="5" rx="1.2" fill="#ff8030"/><rect x="131.12" y="254.12" width="5.2" height="5" rx="1.2" fill="#ff8030"/><rect x="138.95" y="250.99" width="5.2" height="5" rx="1.2" fill="#ff8030"/><rect x="146.78" y="253.17" width="5.2" height="5" rx="1.2" fill="#ff8030"/><rect x="154.61" y="248.82" width="5.2" height="5" rx="1.2" fill="#ff8030"/><rect x="162.44" y="248.21" width="5.2" height="5" rx="1.2" fill="#ff8030"/><rect x="170.27" y="246.15" width="5.2" height="5" rx="1.2" fill="#ff8030"/><rect x="178.10" y="244.62" width="5.2" height="5" rx="1.2" fill="#ff8030"/><rect x="185.93" y="243.44" width="5.2" height="5" rx="1.2" fill="#ff8030"/><rect x="193.76" y="243.06" width="5.2" height="5" rx="1.2" fill="#ff8030"/><rect x="201.59" y="236.39" width="5.2" height="5" rx="1.2" fill="#ff8030"/><rect x="209.42" y="234.81" width="5.2" height="5" rx="1.2" fill="#ff8030"/><rect x="217.25" y="233.01" width="5.2" height="5" rx="1.2" fill="#ff8030"/><rect x="225.08" y="229.36" width="5.2" height="5" rx="1.2" fill="#ff8030"/><rect x="232.91" y="230.87" width="5.2" height="5" rx="1.2" fill="#ff8030"/><rect x="240.75" y="230.27" width="5.2" height="5" rx="1.2" fill="#ff8030"/><rect x="248.58" y="221.64" width="5.2" height="5" rx="1.2" fill="#ff8030"/><rect x="256.41" y="213.48" width="5.2" height="5" rx="1.2" fill="#ff8030"/><rect x="264.24" y="213.64" width="5.2" height="5" rx="1.2" fill="#ff8030"/><rect x="272.07" y="211.53" width="5.2" height="5" rx="1.2" fill="#ff8030"/><rect x="279.90" y="204.01" width="5.2" height="5" rx="1.2" fill="#ff8030"/><rect x="287.73" y="200.68" width="5.2" height="5" rx="1.2" fill="#ff8030"/><rect x="295.56" y="196.28" width="5.2" height="5" rx="1.2" fill="#ff8030"/><rect x="303.39" y="188.12" width="5.2" height="5" rx="1.2" fill="#ff8030"/><rect x="311.22" y="183.02" width="5.2" height="5" rx="1.2" fill="#ff8030"/><rect x="319.05" y="174.58" width="5.2" height="5" rx="1.2" fill="#ff8030"/><rect x="326.88" y="165.61" width="5.2" height="5" rx="1.2" fill="#ff8030"/><rect x="334.71" y="156.34" width="5.2" height="5" rx="1.2" fill="#ff8030"/><rect x="342.54" y="143.04" width="5.2" height="5" rx="1.2" fill="#ff8030"/><rect x="350.37" y="125.08" width="5.2" height="5" rx="1.2" fill="#ff8030"/><rect x="358.20" y="99.90" width="5.2" height="5" rx="1.2" fill="#ff8030"/></g>
<g clip-path="url(#cm)"><polyline points="55.42,267.10 63.25,262.50 71.08,251.00 78.91,268.90 86.74,250.00 94.57,248.70 102.40,255.60 110.23,259.80 118.06,249.40 125.89,251.30 133.72,253.70 141.55,250.20 149.38,250.20 157.21,251.00 165.04,241.30 172.87,246.60 180.70,235.60 188.53,236.70 196.36,239.80 204.19,232.90 212.02,233.20 219.85,231.60 227.68,226.50 235.51,227.40 243.35,223.90 251.18,217.40 259.01,212.80 266.84,207.60 274.67,205.00 282.50,199.60 290.33,193.50 298.16,190.00 305.99,185.10 313.82,177.90 321.65,168.10 329.48,160.50 337.31,151.20 345.14,139.30 352.97,124.60 360.80,104.70" fill="none" stroke="#0000e0" stroke-width="1.0"/><path d="M55.42,262.02V273.43M53.92,262.02h3M53.92,273.43h3" stroke="#0000e0" stroke-width="0.9"/><path d="M63.25,257.53V268.67M61.75,257.53h3M61.75,268.67h3" stroke="#0000e0" stroke-width="0.9"/><path d="M71.08,246.67V256.21M69.58,246.67h3M69.58,256.21h3" stroke="#0000e0" stroke-width="0.9"/><path d="M78.91,263.86V275.17M77.41,263.86h3M77.41,275.17h3" stroke="#0000e0" stroke-width="0.9"/><path d="M86.74,245.90V254.88M85.24,245.90h3M85.24,254.88h3" stroke="#0000e0" stroke-width="0.9"/><path d="M94.57,244.97V253.07M93.07,244.97h3M93.07,253.07h3" stroke="#0000e0" stroke-width="0.9"/><path d="M102.40,251.71V260.18M100.90,251.71h3M100.90,260.18h3" stroke="#0000e0" stroke-width="0.9"/><path d="M110.23,255.12V265.52M108.73,255.12h3M108.73,265.52h3" stroke="#0000e0" stroke-width="0.9"/><path d="M118.06,245.70V253.72M116.56,245.70h3M116.56,253.72h3" stroke="#0000e0" stroke-width="0.9"/><path d="M125.89,247.16V256.23M124.39,247.16h3M124.39,256.23h3" stroke="#0000e0" stroke-width="0.9"/><path d="M133.72,249.53V258.68M132.22,249.53h3M132.22,258.68h3" stroke="#0000e0" stroke-width="0.9"/><path d="M141.55,246.03V255.17M140.05,246.03h3M140.05,255.17h3" stroke="#0000e0" stroke-width="0.9"/><path d="M149.38,246.52V254.49M147.88,246.52h3M147.88,254.49h3" stroke="#0000e0" stroke-width="0.9"/><path d="M157.21,246.98V255.76M155.71,246.98h3M155.71,255.76h3" stroke="#0000e0" stroke-width="0.9"/><path d="M165.04,237.82V245.32M163.54,237.82h3M163.54,245.32h3" stroke="#0000e0" stroke-width="0.9"/><path d="M172.87,242.98V250.82M171.37,242.98h3M171.37,250.82h3" stroke="#0000e0" stroke-width="0.9"/><path d="M180.70,232.56V239.04M179.20,232.56h3M179.20,239.04h3" stroke="#0000e0" stroke-width="0.9"/><path d="M188.53,233.55V240.28M187.03,233.55h3M187.03,240.28h3" stroke="#0000e0" stroke-width="0.9"/><path d="M196.36,236.56V243.51M194.86,236.56h3M194.86,243.51h3" stroke="#0000e0" stroke-width="0.9"/><path d="M204.19,230.07V236.08M202.69,230.07h3M202.69,236.08h3" stroke="#0000e0" stroke-width="0.9"/><path d="M212.02,230.36V236.39M210.52,230.36h3M210.52,236.39h3" stroke="#0000e0" stroke-width="0.9"/><path d="M219.85,229.01V234.47M218.35,229.01h3M218.35,234.47h3" stroke="#0000e0" stroke-width="0.9"/><path d="M227.68,224.02V229.25M226.18,224.02h3M226.18,229.25h3" stroke="#0000e0" stroke-width="0.9"/><path d="M235.51,224.95V230.10M234.01,224.95h3M234.01,230.10h3" stroke="#0000e0" stroke-width="0.9"/><path d="M243.35,221.51V226.54M241.85,221.51h3M241.85,226.54h3" stroke="#0000e0" stroke-width="0.9"/><path d="M251.18,215.26V219.73M249.68,215.26h3M249.68,219.73h3" stroke="#0000e0" stroke-width="0.9"/><path d="M259.01,210.73V215.05M257.51,210.73h3M257.51,215.05h3" stroke="#0000e0" stroke-width="0.9"/><path d="M266.84,205.82V209.51M265.34,205.82h3M265.34,209.51h3" stroke="#0000e0" stroke-width="0.9"/><path d="M274.67,203.31V206.81M273.17,203.31h3M273.17,206.81h3" stroke="#0000e0" stroke-width="0.9"/><path d="M282.50,198.02V201.28M281.00,198.02h3M281.00,201.28h3" stroke="#0000e0" stroke-width="0.9"/><path d="M290.33,192.13V194.95M288.83,192.13h3M288.83,194.95h3" stroke="#0000e0" stroke-width="0.9"/><path d="M298.16,188.68V191.40M296.66,188.68h3M296.66,191.40h3" stroke="#0000e0" stroke-width="0.9"/><path d="M305.99,183.88V186.38M304.49,183.88h3M304.49,186.38h3" stroke="#0000e0" stroke-width="0.9"/><path d="M313.82,176.91V178.93M312.32,176.91h3M312.32,178.93h3" stroke="#0000e0" stroke-width="0.9"/><path d="M321.65,167.26V168.97M320.15,167.26h3M320.15,168.97h3" stroke="#0000e0" stroke-width="0.9"/><path d="M329.48,159.78V161.24M327.98,159.78h3M327.98,161.24h3" stroke="#0000e0" stroke-width="0.9"/><path d="M337.31,150.61V151.80M335.81,150.61h3M335.81,151.80h3" stroke="#0000e0" stroke-width="0.9"/><path d="M345.14,138.83V139.78M343.64,138.83h3M343.64,139.78h3" stroke="#0000e0" stroke-width="0.9"/><path d="M352.97,124.21V124.99M351.47,124.21h3M351.47,124.99h3" stroke="#0000e0" stroke-width="0.9"/><path d="M360.80,104.32V105.08M359.30,104.32h3M359.30,105.08h3" stroke="#0000e0" stroke-width="0.9"/><path d="M55.42,263.90 L58.42,269.40 L52.42,269.40 Z" fill="#0000e0"/><path d="M63.25,259.30 L66.25,264.80 L60.25,264.80 Z" fill="#0000e0"/><path d="M71.08,247.80 L74.08,253.30 L68.08,253.30 Z" fill="#0000e0"/><path d="M78.91,265.70 L81.91,271.20 L75.91,271.20 Z" fill="#0000e0"/><path d="M86.74,246.80 L89.74,252.30 L83.74,252.30 Z" fill="#0000e0"/><path d="M94.57,245.50 L97.57,251.00 L91.57,251.00 Z" fill="#0000e0"/><path d="M102.40,252.40 L105.40,257.90 L99.40,257.90 Z" fill="#0000e0"/><path d="M110.23,256.60 L113.23,262.10 L107.23,262.10 Z" fill="#0000e0"/><path d="M118.06,246.20 L121.06,251.70 L115.06,251.70 Z" fill="#0000e0"/><path d="M125.89,248.10 L128.89,253.60 L122.89,253.60 Z" fill="#0000e0"/><path d="M133.72,250.50 L136.72,256.00 L130.72,256.00 Z" fill="#0000e0"/><path d="M141.55,247.00 L144.55,252.50 L138.55,252.50 Z" fill="#0000e0"/><path d="M149.38,247.00 L152.38,252.50 L146.38,252.50 Z" fill="#0000e0"/><path d="M157.21,247.80 L160.21,253.30 L154.21,253.30 Z" fill="#0000e0"/><path d="M165.04,238.10 L168.04,243.60 L162.04,243.60 Z" fill="#0000e0"/><path d="M172.87,243.40 L175.87,248.90 L169.87,248.90 Z" fill="#0000e0"/><path d="M180.70,232.40 L183.70,237.90 L177.70,237.90 Z" fill="#0000e0"/><path d="M188.53,233.50 L191.53,239.00 L185.53,239.00 Z" fill="#0000e0"/><path d="M196.36,236.60 L199.36,242.10 L193.36,242.10 Z" fill="#0000e0"/><path d="M204.19,229.70 L207.19,235.20 L201.19,235.20 Z" fill="#0000e0"/><path d="M212.02,230.00 L215.02,235.50 L209.02,235.50 Z" fill="#0000e0"/><path d="M219.85,228.40 L222.85,233.90 L216.85,233.90 Z" fill="#0000e0"/><path d="M227.68,223.30 L230.68,228.80 L224.68,228.80 Z" fill="#0000e0"/><path d="M235.51,224.20 L238.51,229.70 L232.51,229.70 Z" fill="#0000e0"/><path d="M243.35,220.70 L246.35,226.20 L240.35,226.20 Z" fill="#0000e0"/><path d="M251.18,214.20 L254.18,219.70 L248.18,219.70 Z" fill="#0000e0"/><path d="M259.01,209.60 L262.01,215.10 L256.01,215.10 Z" fill="#0000e0"/><path d="M266.84,204.40 L269.84,209.90 L263.84,209.90 Z" fill="#0000e0"/><path d="M274.67,201.80 L277.67,207.30 L271.67,207.30 Z" fill="#0000e0"/><path d="M282.50,196.40 L285.50,201.90 L279.50,201.90 Z" fill="#0000e0"/><path d="M290.33,190.30 L293.33,195.80 L287.33,195.80 Z" fill="#0000e0"/><path d="M298.16,186.80 L301.16,192.30 L295.16,192.30 Z" fill="#0000e0"/><path d="M305.99,181.90 L308.99,187.40 L302.99,187.40 Z" fill="#0000e0"/><path d="M313.82,174.70 L316.82,180.20 L310.82,180.20 Z" fill="#0000e0"/><path d="M321.65,164.90 L324.65,170.40 L318.65,170.40 Z" fill="#0000e0"/><path d="M329.48,157.30 L332.48,162.80 L326.48,162.80 Z" fill="#0000e0"/><path d="M337.31,148.00 L340.31,153.50 L334.31,153.50 Z" fill="#0000e0"/><path d="M345.14,136.10 L348.14,141.60 L342.14,141.60 Z" fill="#0000e0"/><path d="M352.97,121.40 L355.97,126.90 L349.97,126.90 Z" fill="#0000e0"/><path d="M360.80,101.50 L363.80,107.00 L357.80,107.00 Z" fill="#0000e0"/></g>
<g clip-path="url(#cr)"><polyline points="55.42,402.09 63.25,397.60 71.08,397.60 78.91,366.30 86.74,431.61 94.57,388.86 102.40,368.16 110.23,383.86 118.06,397.60 125.89,397.60 133.72,397.60 141.55,390.62 149.38,393.33 157.21,378.85 165.04,397.60 172.87,416.04 180.70,408.19 188.53,408.19 196.36,402.09 204.19,397.60 212.02,397.60 219.85,387.06 227.68,386.21 235.51,397.60 243.35,400.27 251.18,394.08 259.01,403.39 266.84,388.55 274.67,389.26 282.50,390.06 290.33,395.01 298.16,394.17 305.99,393.25 313.82,395.01 321.65,395.01 329.48,386.83 337.31,396.30 345.14,397.08 352.97,394.76 360.80,398.48" fill="none" stroke="#bb9a5c" stroke-width="1.0" stroke-dasharray="1,1.5"/><path d="M55.42,385.79V422.13M53.92,385.79h3M53.92,422.13h3" stroke="#bb9a5c" stroke-width="0.9" stroke-dasharray="1,1.5"/><path d="M63.25,382.07V416.49M61.75,382.07h3M61.75,416.49h3" stroke="#bb9a5c" stroke-width="0.9" stroke-dasharray="1,1.5"/><path d="M71.08,382.37V416.05M69.58,382.37h3M69.58,416.05h3" stroke="#bb9a5c" stroke-width="0.9" stroke-dasharray="1,1.5"/><path d="M78.91,353.58V381.18M77.41,353.58h3M77.41,381.18h3" stroke="#bb9a5c" stroke-width="0.9" stroke-dasharray="1,1.5"/><path d="M86.74,413.92V453.79M85.24,413.92h3M85.24,453.79h3" stroke="#bb9a5c" stroke-width="0.9" stroke-dasharray="1,1.5"/><path d="M94.57,374.89V405.50M93.07,374.89h3M93.07,405.50h3" stroke="#bb9a5c" stroke-width="0.9" stroke-dasharray="1,1.5"/><path d="M102.40,355.80V382.55M100.90,355.80h3M100.90,382.55h3" stroke="#bb9a5c" stroke-width="0.9" stroke-dasharray="1,1.5"/><path d="M110.23,370.62V399.47M108.73,370.62h3M108.73,399.47h3" stroke="#bb9a5c" stroke-width="0.9" stroke-dasharray="1,1.5"/><path d="M118.06,383.59V414.29M116.56,383.59h3M116.56,414.29h3" stroke="#bb9a5c" stroke-width="0.9" stroke-dasharray="1,1.5"/><path d="M125.89,383.85V413.92M124.39,383.85h3M124.39,413.92h3" stroke="#bb9a5c" stroke-width="0.9" stroke-dasharray="1,1.5"/><path d="M133.72,384.15V413.50M132.22,384.15h3M132.22,413.50h3" stroke="#bb9a5c" stroke-width="0.9" stroke-dasharray="1,1.5"/><path d="M141.55,377.98V405.41M140.05,377.98h3M140.05,405.41h3" stroke="#bb9a5c" stroke-width="0.9" stroke-dasharray="1,1.5"/><path d="M149.38,380.86V407.87M147.88,380.86h3M147.88,407.87h3" stroke="#bb9a5c" stroke-width="0.9" stroke-dasharray="1,1.5"/><path d="M157.21,367.67V391.66M155.71,367.67h3M155.71,391.66h3" stroke="#bb9a5c" stroke-width="0.9" stroke-dasharray="1,1.5"/><path d="M165.04,385.67V411.42M163.54,385.67h3M163.54,411.42h3" stroke="#bb9a5c" stroke-width="0.9" stroke-dasharray="1,1.5"/><path d="M172.87,403.36V430.87M171.37,403.36h3M171.37,430.87h3" stroke="#bb9a5c" stroke-width="0.9" stroke-dasharray="1,1.5"/><path d="M180.70,396.51V421.68M179.20,396.51h3M179.20,421.68h3" stroke="#bb9a5c" stroke-width="0.9" stroke-dasharray="1,1.5"/><path d="M188.53,397.00V421.03M187.03,397.00h3M187.03,421.03h3" stroke="#bb9a5c" stroke-width="0.9" stroke-dasharray="1,1.5"/><path d="M196.36,391.74V413.83M194.86,391.74h3M194.86,413.83h3" stroke="#bb9a5c" stroke-width="0.9" stroke-dasharray="1,1.5"/><path d="M204.19,387.96V408.43M202.69,387.96h3M202.69,408.43h3" stroke="#bb9a5c" stroke-width="0.9" stroke-dasharray="1,1.5"/><path d="M212.02,388.42V407.85M210.52,388.42h3M210.52,407.85h3" stroke="#bb9a5c" stroke-width="0.9" stroke-dasharray="1,1.5"/><path d="M219.85,378.82V396.15M218.35,378.82h3M218.35,396.15h3" stroke="#bb9a5c" stroke-width="0.9" stroke-dasharray="1,1.5"/><path d="M227.68,378.43V394.75M226.18,378.43h3M226.18,394.75h3" stroke="#bb9a5c" stroke-width="0.9" stroke-dasharray="1,1.5"/><path d="M235.51,389.76V406.21M234.01,389.76h3M234.01,406.21h3" stroke="#bb9a5c" stroke-width="0.9" stroke-dasharray="1,1.5"/><path d="M243.35,392.75V408.49M241.85,392.75h3M241.85,408.49h3" stroke="#bb9a5c" stroke-width="0.9" stroke-dasharray="1,1.5"/><path d="M251.18,387.24V401.51M249.68,387.24h3M249.68,401.51h3" stroke="#bb9a5c" stroke-width="0.9" stroke-dasharray="1,1.5"/><path d="M259.01,396.62V410.72M257.51,396.62h3M257.51,410.72h3" stroke="#bb9a5c" stroke-width="0.9" stroke-dasharray="1,1.5"/><path d="M266.84,382.71V394.80M265.34,382.71h3M265.34,394.80h3" stroke="#bb9a5c" stroke-width="0.9" stroke-dasharray="1,1.5"/><path d="M274.67,383.81V395.07M273.17,383.81h3M273.17,395.07h3" stroke="#bb9a5c" stroke-width="0.9" stroke-dasharray="1,1.5"/><path d="M282.50,385.00V395.43M281.00,385.00h3M281.00,395.43h3" stroke="#bb9a5c" stroke-width="0.9" stroke-dasharray="1,1.5"/><path d="M290.33,390.25V400.05M288.83,390.25h3M288.83,400.05h3" stroke="#bb9a5c" stroke-width="0.9" stroke-dasharray="1,1.5"/><path d="M298.16,389.87V398.69M296.66,389.87h3M296.66,398.69h3" stroke="#bb9a5c" stroke-width="0.9" stroke-dasharray="1,1.5"/><path d="M305.99,389.41V397.26M304.49,389.41h3M304.49,397.26h3" stroke="#bb9a5c" stroke-width="0.9" stroke-dasharray="1,1.5"/><path d="M313.82,391.60V398.56M312.32,391.60h3M312.32,398.56h3" stroke="#bb9a5c" stroke-width="0.9" stroke-dasharray="1,1.5"/><path d="M321.65,392.06V398.07M320.15,392.06h3M320.15,398.07h3" stroke="#bb9a5c" stroke-width="0.9" stroke-dasharray="1,1.5"/><path d="M329.48,384.44V389.28M327.98,384.44h3M327.98,389.28h3" stroke="#bb9a5c" stroke-width="0.9" stroke-dasharray="1,1.5"/><path d="M337.31,394.23V398.42M335.81,394.23h3M335.81,398.42h3" stroke="#bb9a5c" stroke-width="0.9" stroke-dasharray="1,1.5"/><path d="M345.14,395.42V398.77M343.64,395.42h3M343.64,398.77h3" stroke="#bb9a5c" stroke-width="0.9" stroke-dasharray="1,1.5"/><path d="M352.97,393.41V396.13M351.47,393.41h3M351.47,396.13h3" stroke="#bb9a5c" stroke-width="0.9" stroke-dasharray="1,1.5"/><path d="M360.80,397.11V399.88M359.30,397.11h3M359.30,399.88h3" stroke="#bb9a5c" stroke-width="0.9" stroke-dasharray="1,1.5"/><rect x="53.02" y="399.69" width="4.8" height="4.8" fill="none" stroke="#bb9a5c" stroke-width="1.1"/><rect x="60.85" y="395.20" width="4.8" height="4.8" fill="none" stroke="#bb9a5c" stroke-width="1.1"/><rect x="68.68" y="395.20" width="4.8" height="4.8" fill="none" stroke="#bb9a5c" stroke-width="1.1"/><rect x="76.51" y="363.90" width="4.8" height="4.8" fill="none" stroke="#bb9a5c" stroke-width="1.1"/><rect x="84.34" y="429.21" width="4.8" height="4.8" fill="none" stroke="#bb9a5c" stroke-width="1.1"/><rect x="92.17" y="386.46" width="4.8" height="4.8" fill="none" stroke="#bb9a5c" stroke-width="1.1"/><rect x="100.00" y="365.76" width="4.8" height="4.8" fill="none" stroke="#bb9a5c" stroke-width="1.1"/><rect x="107.83" y="381.46" width="4.8" height="4.8" fill="none" stroke="#bb9a5c" stroke-width="1.1"/><rect x="115.66" y="395.20" width="4.8" height="4.8" fill="none" stroke="#bb9a5c" stroke-width="1.1"/><rect x="123.49" y="395.20" width="4.8" height="4.8" fill="none" stroke="#bb9a5c" stroke-width="1.1"/><rect x="131.32" y="395.20" width="4.8" height="4.8" fill="none" stroke="#bb9a5c" stroke-width="1.1"/><rect x="139.15" y="388.22" width="4.8" height="4.8" fill="none" stroke="#bb9a5c" stroke-width="1.1"/><rect x="146.98" y="390.93" width="4.8" height="4.8" fill="none" stroke="#bb9a5c" stroke-width="1.1"/><rect x="154.81" y="376.45" width="4.8" height="4.8" fill="none" stroke="#bb9a5c" stroke-width="1.1"/><rect x="162.64" y="395.20" width="4.8" height="4.8" fill="none" stroke="#bb9a5c" stroke-width="1.1"/><rect x="170.47" y="413.64" width="4.8" height="4.8" fill="none" stroke="#bb9a5c" stroke-width="1.1"/><rect x="178.30" y="405.79" width="4.8" height="4.8" fill="none" stroke="#bb9a5c" stroke-width="1.1"/><rect x="186.13" y="405.79" width="4.8" height="4.8" fill="none" stroke="#bb9a5c" stroke-width="1.1"/><rect x="193.96" y="399.69" width="4.8" height="4.8" fill="none" stroke="#bb9a5c" stroke-width="1.1"/><rect x="201.79" y="395.20" width="4.8" height="4.8" fill="none" stroke="#bb9a5c" stroke-width="1.1"/><rect x="209.62" y="395.20" width="4.8" height="4.8" fill="none" stroke="#bb9a5c" stroke-width="1.1"/><rect x="217.45" y="384.66" width="4.8" height="4.8" fill="none" stroke="#bb9a5c" stroke-width="1.1"/><rect x="225.28" y="383.81" width="4.8" height="4.8" fill="none" stroke="#bb9a5c" stroke-width="1.1"/><rect x="233.11" y="395.20" width="4.8" height="4.8" fill="none" stroke="#bb9a5c" stroke-width="1.1"/><rect x="240.95" y="397.87" width="4.8" height="4.8" fill="none" stroke="#bb9a5c" stroke-width="1.1"/><rect x="248.78" y="391.68" width="4.8" height="4.8" fill="none" stroke="#bb9a5c" stroke-width="1.1"/><rect x="256.61" y="400.99" width="4.8" height="4.8" fill="none" stroke="#bb9a5c" stroke-width="1.1"/><rect x="264.44" y="386.15" width="4.8" height="4.8" fill="none" stroke="#bb9a5c" stroke-width="1.1"/><rect x="272.27" y="386.86" width="4.8" height="4.8" fill="none" stroke="#bb9a5c" stroke-width="1.1"/><rect x="280.10" y="387.66" width="4.8" height="4.8" fill="none" stroke="#bb9a5c" stroke-width="1.1"/><rect x="287.93" y="392.61" width="4.8" height="4.8" fill="none" stroke="#bb9a5c" stroke-width="1.1"/><rect x="295.76" y="391.77" width="4.8" height="4.8" fill="none" stroke="#bb9a5c" stroke-width="1.1"/><rect x="303.59" y="390.85" width="4.8" height="4.8" fill="none" stroke="#bb9a5c" stroke-width="1.1"/><rect x="311.42" y="392.61" width="4.8" height="4.8" fill="none" stroke="#bb9a5c" stroke-width="1.1"/><rect x="319.25" y="392.61" width="4.8" height="4.8" fill="none" stroke="#bb9a5c" stroke-width="1.1"/><rect x="327.08" y="384.43" width="4.8" height="4.8" fill="none" stroke="#bb9a5c" stroke-width="1.1"/><rect x="334.91" y="393.90" width="4.8" height="4.8" fill="none" stroke="#bb9a5c" stroke-width="1.1"/><rect x="342.74" y="394.68" width="4.8" height="4.8" fill="none" stroke="#bb9a5c" stroke-width="1.1"/><rect x="350.57" y="392.36" width="4.8" height="4.8" fill="none" stroke="#bb9a5c" stroke-width="1.1"/><rect x="358.40" y="396.08" width="4.8" height="4.8" fill="none" stroke="#bb9a5c" stroke-width="1.1"/></g>
<g clip-path="url(#cr)"><polyline points="55.42,379.06 63.25,408.79 71.08,417.46 78.91,366.30 86.74,425.74 94.57,388.86 102.40,368.16 110.23,398.83 118.06,401.63 125.89,418.23 133.72,390.06 141.55,381.79 149.38,374.91 157.21,414.12 165.04,384.76 172.87,389.58 180.70,379.84 188.53,412.13 196.36,411.31 204.19,405.66 212.02,417.13 219.85,407.31 227.68,396.82 235.51,402.09 243.35,425.02 251.18,402.09 259.01,411.82 266.84,393.25 274.67,393.25 282.50,397.60 290.33,396.73 298.16,392.42 305.99,405.76 313.82,393.33 321.65,395.52 329.48,400.99 337.31,400.27 345.14,403.39 352.97,404.14 360.80,404.14" fill="none" stroke="#a01e3c" stroke-width="1.0"/><path d="M55.42,364.62V396.37M53.92,364.62h3M53.92,396.37h3" stroke="#a01e3c" stroke-width="0.9"/><path d="M63.25,392.33V429.08M61.75,392.33h3M61.75,429.08h3" stroke="#a01e3c" stroke-width="0.9"/><path d="M71.08,400.56V438.41M69.58,400.56h3M69.58,438.41h3" stroke="#a01e3c" stroke-width="0.9"/><path d="M78.91,353.58V381.18M77.41,353.58h3M77.41,381.18h3" stroke="#a01e3c" stroke-width="0.9"/><path d="M86.74,408.59V447.10M85.24,408.59h3M85.24,447.10h3" stroke="#a01e3c" stroke-width="0.9"/><path d="M94.57,374.89V405.50M93.07,374.89h3M93.07,405.50h3" stroke="#a01e3c" stroke-width="0.9"/><path d="M102.40,355.80V382.55M100.90,355.80h3M100.90,382.55h3" stroke="#a01e3c" stroke-width="0.9"/><path d="M110.23,384.50V415.99M108.73,384.50h3M108.73,415.99h3" stroke="#a01e3c" stroke-width="0.9"/><path d="M118.06,387.31V418.75M116.56,387.31h3M116.56,418.75h3" stroke="#a01e3c" stroke-width="0.9"/><path d="M125.89,402.90V436.82M124.39,402.90h3M124.39,436.82h3" stroke="#a01e3c" stroke-width="0.9"/><path d="M133.72,377.13V405.23M132.22,377.13h3M132.22,405.23h3" stroke="#a01e3c" stroke-width="0.9"/><path d="M141.55,369.73V395.78M140.05,369.73h3M140.05,395.78h3" stroke="#a01e3c" stroke-width="0.9"/><path d="M149.38,363.61V387.89M147.88,363.61h3M147.88,387.89h3" stroke="#a01e3c" stroke-width="0.9"/><path d="M157.21,400.63V430.07M155.71,400.63h3M155.71,430.07h3" stroke="#a01e3c" stroke-width="0.9"/><path d="M165.04,373.62V397.53M163.54,373.62h3M163.54,397.53h3" stroke="#a01e3c" stroke-width="0.9"/><path d="M172.87,378.57V402.17M171.37,378.57h3M171.37,402.17h3" stroke="#a01e3c" stroke-width="0.9"/><path d="M180.70,369.81V391.17M179.20,369.81h3M179.20,391.17h3" stroke="#a01e3c" stroke-width="0.9"/><path d="M188.53,400.70V425.28M187.03,400.70h3M187.03,425.28h3" stroke="#a01e3c" stroke-width="0.9"/><path d="M196.36,400.43V423.74M194.86,400.43h3M194.86,423.74h3" stroke="#a01e3c" stroke-width="0.9"/><path d="M204.19,395.59V417.04M202.69,395.59h3M202.69,417.04h3" stroke="#a01e3c" stroke-width="0.9"/><path d="M212.02,406.93V428.68M210.52,406.93h3M210.52,428.68h3" stroke="#a01e3c" stroke-width="0.9"/><path d="M219.85,398.11V417.58M218.35,398.11h3M218.35,417.58h3" stroke="#a01e3c" stroke-width="0.9"/><path d="M227.68,388.58V405.91M226.18,388.58h3M226.18,405.91h3" stroke="#a01e3c" stroke-width="0.9"/><path d="M235.51,394.06V410.93M234.01,394.06h3M234.01,410.93h3" stroke="#a01e3c" stroke-width="0.9"/><path d="M243.35,416.42V434.56M241.85,416.42h3M241.85,434.56h3" stroke="#a01e3c" stroke-width="0.9"/><path d="M251.18,394.94V409.88M249.68,394.94h3M249.68,409.88h3" stroke="#a01e3c" stroke-width="0.9"/><path d="M259.01,404.73V419.54M257.51,404.73h3M257.51,419.54h3" stroke="#a01e3c" stroke-width="0.9"/><path d="M266.84,387.26V399.67M265.34,387.26h3M265.34,399.67h3" stroke="#a01e3c" stroke-width="0.9"/><path d="M274.67,387.68V399.20M273.17,387.68h3M273.17,399.20h3" stroke="#a01e3c" stroke-width="0.9"/><path d="M282.50,392.33V403.21M281.00,392.33h3M281.00,403.21h3" stroke="#a01e3c" stroke-width="0.9"/><path d="M290.33,391.92V401.82M288.83,391.92h3M288.83,401.82h3" stroke="#a01e3c" stroke-width="0.9"/><path d="M298.16,388.16V396.90M296.66,388.16h3M296.66,396.90h3" stroke="#a01e3c" stroke-width="0.9"/><path d="M305.99,401.65V410.07M304.49,401.65h3M304.49,410.07h3" stroke="#a01e3c" stroke-width="0.9"/><path d="M313.82,389.95V396.85M312.32,389.95h3M312.32,396.85h3" stroke="#a01e3c" stroke-width="0.9"/><path d="M321.65,392.56V398.59M320.15,392.56h3M320.15,398.59h3" stroke="#a01e3c" stroke-width="0.9"/><path d="M329.48,398.41V403.65M327.98,398.41h3M327.98,403.65h3" stroke="#a01e3c" stroke-width="0.9"/><path d="M337.31,398.15V402.44M335.81,398.15h3M335.81,402.44h3" stroke="#a01e3c" stroke-width="0.9"/><path d="M345.14,401.67V405.14M343.64,401.67h3M343.64,405.14h3" stroke="#a01e3c" stroke-width="0.9"/><path d="M352.97,402.72V405.58M351.47,402.72h3M351.47,405.58h3" stroke="#a01e3c" stroke-width="0.9"/><path d="M360.80,402.72V405.58M359.30,402.72h3M359.30,405.58h3" stroke="#a01e3c" stroke-width="0.9"/><path d="M55.42,375.66 L58.62,381.46 L52.22,381.46 Z" fill="none" stroke="#a01e3c" stroke-width="1.1"/><path d="M63.25,405.39 L66.45,411.19 L60.05,411.19 Z" fill="none" stroke="#a01e3c" stroke-width="1.1"/><path d="M71.08,414.06 L74.28,419.86 L67.88,419.86 Z" fill="none" stroke="#a01e3c" stroke-width="1.1"/><path d="M78.91,362.90 L82.11,368.70 L75.71,368.70 Z" fill="none" stroke="#a01e3c" stroke-width="1.1"/><path d="M86.74,422.34 L89.94,428.14 L83.54,428.14 Z" fill="none" stroke="#a01e3c" stroke-width="1.1"/><path d="M94.57,385.46 L97.77,391.26 L91.37,391.26 Z" fill="none" stroke="#a01e3c" stroke-width="1.1"/><path d="M102.40,364.76 L105.60,370.56 L99.20,370.56 Z" fill="none" stroke="#a01e3c" stroke-width="1.1"/><path d="M110.23,395.43 L113.43,401.23 L107.03,401.23 Z" fill="none" stroke="#a01e3c" stroke-width="1.1"/><path d="M118.06,398.23 L121.26,404.03 L114.86,404.03 Z" fill="none" stroke="#a01e3c" stroke-width="1.1"/><path d="M125.89,414.83 L129.09,420.63 L122.69,420.63 Z" fill="none" stroke="#a01e3c" stroke-width="1.1"/><path d="M133.72,386.66 L136.92,392.46 L130.52,392.46 Z" fill="none" stroke="#a01e3c" stroke-width="1.1"/><path d="M141.55,378.39 L144.75,384.19 L138.35,384.19 Z" fill="none" stroke="#a01e3c" stroke-width="1.1"/><path d="M149.38,371.51 L152.58,377.31 L146.18,377.31 Z" fill="none" stroke="#a01e3c" stroke-width="1.1"/><path d="M157.21,410.72 L160.41,416.52 L154.01,416.52 Z" fill="none" stroke="#a01e3c" stroke-width="1.1"/><path d="M165.04,381.36 L168.24,387.16 L161.84,387.16 Z" fill="none" stroke="#a01e3c" stroke-width="1.1"/><path d="M172.87,386.18 L176.07,391.98 L169.67,391.98 Z" fill="none" stroke="#a01e3c" stroke-width="1.1"/><path d="M180.70,376.44 L183.90,382.24 L177.50,382.24 Z" fill="none" stroke="#a01e3c" stroke-width="1.1"/><path d="M188.53,408.73 L191.73,414.53 L185.33,414.53 Z" fill="none" stroke="#a01e3c" stroke-width="1.1"/><path d="M196.36,407.91 L199.56,413.71 L193.16,413.71 Z" fill="none" stroke="#a01e3c" stroke-width="1.1"/><path d="M204.19,402.26 L207.39,408.06 L200.99,408.06 Z" fill="none" stroke="#a01e3c" stroke-width="1.1"/><path d="M212.02,413.73 L215.22,419.53 L208.82,419.53 Z" fill="none" stroke="#a01e3c" stroke-width="1.1"/><path d="M219.85,403.91 L223.05,409.71 L216.65,409.71 Z" fill="none" stroke="#a01e3c" stroke-width="1.1"/><path d="M227.68,393.42 L230.88,399.22 L224.48,399.22 Z" fill="none" stroke="#a01e3c" stroke-width="1.1"/><path d="M235.51,398.69 L238.71,404.49 L232.31,404.49 Z" fill="none" stroke="#a01e3c" stroke-width="1.1"/><path d="M243.35,421.62 L246.55,427.42 L240.15,427.42 Z" fill="none" stroke="#a01e3c" stroke-width="1.1"/><path d="M251.18,398.69 L254.38,404.49 L247.98,404.49 Z" fill="none" stroke="#a01e3c" stroke-width="1.1"/><path d="M259.01,408.42 L262.21,414.22 L255.81,414.22 Z" fill="none" stroke="#a01e3c" stroke-width="1.1"/><path d="M266.84,389.85 L270.04,395.65 L263.64,395.65 Z" fill="none" stroke="#a01e3c" stroke-width="1.1"/><path d="M274.67,389.85 L277.87,395.65 L271.47,395.65 Z" fill="none" stroke="#a01e3c" stroke-width="1.1"/><path d="M282.50,394.20 L285.70,400.00 L279.30,400.00 Z" fill="none" stroke="#a01e3c" stroke-width="1.1"/><path d="M290.33,393.33 L293.53,399.13 L287.13,399.13 Z" fill="none" stroke="#a01e3c" stroke-width="1.1"/><path d="M298.16,389.02 L301.36,394.82 L294.96,394.82 Z" fill="none" stroke="#a01e3c" stroke-width="1.1"/><path d="M305.99,402.36 L309.19,408.16 L302.79,408.16 Z" fill="none" stroke="#a01e3c" stroke-width="1.1"/><path d="M313.82,389.93 L317.02,395.73 L310.62,395.73 Z" fill="none" stroke="#a01e3c" stroke-width="1.1"/><path d="M321.65,392.12 L324.85,397.92 L318.45,397.92 Z" fill="none" stroke="#a01e3c" stroke-width="1.1"/><path d="M329.48,397.59 L332.68,403.39 L326.28,403.39 Z" fill="none" stroke="#a01e3c" stroke-width="1.1"/><path d="M337.31,396.87 L340.51,402.67 L334.11,402.67 Z" fill="none" stroke="#a01e3c" stroke-width="1.1"/><path d="M345.14,399.99 L348.34,405.79 L341.94,405.79 Z" fill="none" stroke="#a01e3c" stroke-width="1.1"/><path d="M352.97,400.74 L356.17,406.54 L349.77,406.54 Z" fill="none" stroke="#a01e3c" stroke-width="1.1"/><path d="M360.80,400.74 L364.00,406.54 L357.60,406.54 Z" fill="none" stroke="#a01e3c" stroke-width="1.1"/></g>
<g clip-path="url(#cr)"><polyline points="55.42,402.64 63.25,392.42 71.08,432.65 78.91,406.82 86.74,407.31 94.57,409.19 102.40,413.07 110.23,406.34 118.06,462.38 125.89,422.78 133.72,417.13 141.55,422.89 149.38,412.13 157.21,417.13 165.04,427.45 172.87,417.13 180.70,423.83 188.53,430.71 196.36,432.91 204.19,417.13 212.02,420.47 219.85,411.82 227.68,418.90 235.51,428.44 243.35,444.52 251.18,427.57 259.01,420.59 266.84,423.71 274.67,429.19 282.50,423.71 290.33,423.71 298.16,431.61 305.99,425.26 313.82,417.46 321.65,419.01 329.48,416.69 337.31,415.18 345.14,412.75 352.97,400.99 360.80,377.58" fill="none" stroke="#ff8030" stroke-width="1.0" stroke-dasharray="3,1.5,1,1.5"/><path d="M55.42,386.30V422.76M53.92,386.30h3M53.92,422.76h3" stroke="#ff8030" stroke-width="0.9" stroke-dasharray="3,1.5,1,1.5"/><path d="M63.25,377.31V410.69M61.75,377.31h3M61.75,410.69h3" stroke="#ff8030" stroke-width="0.9" stroke-dasharray="3,1.5,1,1.5"/><path d="M71.08,414.37V455.78M69.58,414.37h3M69.58,455.78h3" stroke="#ff8030" stroke-width="0.9" stroke-dasharray="3,1.5,1,1.5"/><path d="M78.91,391.07V426.04M77.41,391.07h3M77.41,426.04h3" stroke="#ff8030" stroke-width="0.9" stroke-dasharray="3,1.5,1,1.5"/><path d="M86.74,391.72V426.28M85.24,391.72h3M85.24,426.28h3" stroke="#ff8030" stroke-width="0.9" stroke-dasharray="3,1.5,1,1.5"/><path d="M94.57,393.64V428.10M93.07,393.64h3M93.07,428.10h3" stroke="#ff8030" stroke-width="0.9" stroke-dasharray="3,1.5,1,1.5"/><path d="M102.40,397.40V432.16M100.90,397.40h3M100.90,432.16h3" stroke="#ff8030" stroke-width="0.9" stroke-dasharray="3,1.5,1,1.5"/><path d="M110.23,391.42V424.32M108.73,391.42h3M108.73,424.32h3" stroke="#ff8030" stroke-width="0.9" stroke-dasharray="3,1.5,1,1.5"/><path d="M118.06,442.75V487.72M116.56,442.75h3M116.56,487.72h3" stroke="#ff8030" stroke-width="0.9" stroke-dasharray="3,1.5,1,1.5"/><path d="M125.89,407.08V441.92M124.39,407.08h3M124.39,441.92h3" stroke="#ff8030" stroke-width="0.9" stroke-dasharray="3,1.5,1,1.5"/><path d="M133.72,402.21V435.12M132.22,402.21h3M132.22,435.12h3" stroke="#ff8030" stroke-width="0.9" stroke-dasharray="3,1.5,1,1.5"/><path d="M141.55,407.90V441.00M140.05,407.90h3M140.05,441.00h3" stroke="#ff8030" stroke-width="0.9" stroke-dasharray="3,1.5,1,1.5"/><path d="M149.38,398.36V428.49M147.88,398.36h3M147.88,428.49h3" stroke="#ff8030" stroke-width="0.9" stroke-dasharray="3,1.5,1,1.5"/><path d="M157.21,403.42V433.39M155.71,403.42h3M155.71,433.39h3" stroke="#ff8030" stroke-width="0.9" stroke-dasharray="3,1.5,1,1.5"/><path d="M165.04,413.46V444.10M163.54,413.46h3M163.54,444.10h3" stroke="#ff8030" stroke-width="0.9" stroke-dasharray="3,1.5,1,1.5"/><path d="M172.87,404.37V432.06M171.37,404.37h3M171.37,432.06h3" stroke="#ff8030" stroke-width="0.9" stroke-dasharray="3,1.5,1,1.5"/><path d="M180.70,411.14V438.69M179.20,411.14h3M179.20,438.69h3" stroke="#ff8030" stroke-width="0.9" stroke-dasharray="3,1.5,1,1.5"/><path d="M188.53,418.09V445.46M187.03,418.09h3M187.03,445.46h3" stroke="#ff8030" stroke-width="0.9" stroke-dasharray="3,1.5,1,1.5"/><path d="M196.36,420.69V447.11M194.86,420.69h3M194.86,447.11h3" stroke="#ff8030" stroke-width="0.9" stroke-dasharray="3,1.5,1,1.5"/><path d="M204.19,406.42V429.33M202.69,406.42h3M202.69,429.33h3" stroke="#ff8030" stroke-width="0.9" stroke-dasharray="3,1.5,1,1.5"/><path d="M212.02,410.09V432.26M210.52,410.09h3M210.52,432.26h3" stroke="#ff8030" stroke-width="0.9" stroke-dasharray="3,1.5,1,1.5"/><path d="M219.85,402.40V422.38M218.35,402.40h3M218.35,422.38h3" stroke="#ff8030" stroke-width="0.9" stroke-dasharray="3,1.5,1,1.5"/><path d="M227.68,409.60V429.29M226.18,409.60h3M226.18,429.29h3" stroke="#ff8030" stroke-width="0.9" stroke-dasharray="3,1.5,1,1.5"/><path d="M235.51,419.17V438.81M234.01,419.17h3M234.01,438.81h3" stroke="#ff8030" stroke-width="0.9" stroke-dasharray="3,1.5,1,1.5"/><path d="M243.35,434.96V455.25M241.85,434.96h3M241.85,455.25h3" stroke="#ff8030" stroke-width="0.9" stroke-dasharray="3,1.5,1,1.5"/><path d="M251.18,419.35V436.65M249.68,419.35h3M249.68,436.65h3" stroke="#ff8030" stroke-width="0.9" stroke-dasharray="3,1.5,1,1.5"/><path d="M259.01,413.15V428.72M257.51,413.15h3M257.51,428.72h3" stroke="#ff8030" stroke-width="0.9" stroke-dasharray="3,1.5,1,1.5"/><path d="M266.84,416.63V431.42M265.34,416.63h3M265.34,431.42h3" stroke="#ff8030" stroke-width="0.9" stroke-dasharray="3,1.5,1,1.5"/><path d="M274.67,422.40V436.55M273.17,422.40h3M273.17,436.55h3" stroke="#ff8030" stroke-width="0.9" stroke-dasharray="3,1.5,1,1.5"/><path d="M282.50,417.62V430.26M281.00,417.62h3M281.00,430.26h3" stroke="#ff8030" stroke-width="0.9" stroke-dasharray="3,1.5,1,1.5"/><path d="M290.33,418.13V429.68M288.83,418.13h3M288.83,429.68h3" stroke="#ff8030" stroke-width="0.9" stroke-dasharray="3,1.5,1,1.5"/><path d="M298.16,426.31V437.25M296.66,426.31h3M296.66,437.25h3" stroke="#ff8030" stroke-width="0.9" stroke-dasharray="3,1.5,1,1.5"/><path d="M305.99,420.68V430.10M304.49,420.68h3M304.49,430.10h3" stroke="#ff8030" stroke-width="0.9" stroke-dasharray="3,1.5,1,1.5"/><path d="M313.82,413.59V421.50M312.32,413.59h3M312.32,421.50h3" stroke="#ff8030" stroke-width="0.9" stroke-dasharray="3,1.5,1,1.5"/><path d="M321.65,415.63V422.52M320.15,415.63h3M320.15,422.52h3" stroke="#ff8030" stroke-width="0.9" stroke-dasharray="3,1.5,1,1.5"/><path d="M329.48,413.87V419.60M327.98,413.87h3M327.98,419.60h3" stroke="#ff8030" stroke-width="0.9" stroke-dasharray="3,1.5,1,1.5"/><path d="M337.31,412.88V417.55M335.81,412.88h3M335.81,417.55h3" stroke="#ff8030" stroke-width="0.9" stroke-dasharray="3,1.5,1,1.5"/><path d="M345.14,410.94V414.61M343.64,410.94h3M343.64,414.61h3" stroke="#ff8030" stroke-width="0.9" stroke-dasharray="3,1.5,1,1.5"/><path d="M352.97,399.60V402.41M351.47,399.60h3M351.47,402.41h3" stroke="#ff8030" stroke-width="0.9" stroke-dasharray="3,1.5,1,1.5"/><path d="M360.80,376.36V378.82M359.30,376.36h3M359.30,378.82h3" stroke="#ff8030" stroke-width="0.9" stroke-dasharray="3,1.5,1,1.5"/><rect x="52.82" y="400.14" width="5.2" height="5" rx="1.2" fill="#ff8030"/><rect x="60.65" y="389.92" width="5.2" height="5" rx="1.2" fill="#ff8030"/><rect x="68.48" y="430.15" width="5.2" height="5" rx="1.2" fill="#ff8030"/><rect x="76.31" y="404.32" width="5.2" height="5" rx="1.2" fill="#ff8030"/><rect x="84.14" y="404.81" width="5.2" height="5" rx="1.2" fill="#ff8030"/><rect x="91.97" y="406.69" width="5.2" height="5" rx="1.2" fill="#ff8030"/><rect x="99.80" y="410.57" width="5.2" height="5" rx="1.2" fill="#ff8030"/><rect x="107.63" y="403.84" width="5.2" height="5" rx="1.2" fill="#ff8030"/><rect x="115.46" y="459.88" width="5.2" height="5" rx="1.2" fill="#ff8030"/><rect x="123.29" y="420.28" width="5.2" height="5" rx="1.2" fill="#ff8030"/><rect x="131.12" y="414.63" width="5.2" height="5" rx="1.2" fill="#ff8030"/><rect x="138.95" y="420.39" width="5.2" height="5" rx="1.2" fill="#ff8030"/><rect x="146.78" y="409.63" width="5.2" height="5" rx="1.2" fill="#ff8030"/><rect x="154.61" y="414.63" width="5.2" height="5" rx="1.2" fill="#ff8030"/><rect x="162.44" y="424.95" width="5.2" height="5" rx="1.2" fill="#ff8030"/><rect x="170.27" y="414.63" width="5.2" height="5" rx="1.2" fill="#ff8030"/><rect x="178.10" y="421.33" width="5.2" height="5" rx="1.2" fill="#ff8030"/><rect x="185.93" y="428.21" width="5.2" height="5" rx="1.2" fill="#ff8030"/><rect x="193.76" y="430.41" width="5.2" height="5" rx="1.2" fill="#ff8030"/><rect x="201.59" y="414.63" width="5.2" height="5" rx="1.2" fill="#ff8030"/><rect x="209.42" y="417.97" width="5.2" height="5" rx="1.2" fill="#ff8030"/><rect x="217.25" y="409.32" width="5.2" height="5" rx="1.2" fill="#ff8030"/><rect x="225.08" y="416.40" width="5.2" height="5" rx="1.2" fill="#ff8030"/><rect x="232.91" y="425.94" width="5.2" height="5" rx="1.2" fill="#ff8030"/><rect x="240.75" y="442.02" width="5.2" height="5" rx="1.2" fill="#ff8030"/><rect x="248.58" y="425.07" width="5.2" height="5" rx="1.2" fill="#ff8030"/><rect x="256.41" y="418.09" width="5.2" height="5" rx="1.2" fill="#ff8030"/><rect x="264.24" y="421.21" width="5.2" height="5" rx="1.2" fill="#ff8030"/><rect x="272.07" y="426.69" width="5.2" height="5" rx="1.2" fill="#ff8030"/><rect x="279.90" y="421.21" width="5.2" height="5" rx="1.2" fill="#ff8030"/><rect x="287.73" y="421.21" width="5.2" height="5" rx="1.2" fill="#ff8030"/><rect x="295.56" y="429.11" width="5.2" height="5" rx="1.2" fill="#ff8030"/><rect x="303.39" y="422.76" width="5.2" height="5" rx="1.2" fill="#ff8030"/><rect x="311.22" y="414.96" width="5.2" height="5" rx="1.2" fill="#ff8030"/><rect x="319.05" y="416.51" width="5.2" height="5" rx="1.2" fill="#ff8030"/><rect x="326.88" y="414.19" width="5.2" height="5" rx="1.2" fill="#ff8030"/><rect x="334.71" y="412.68" width="5.2" height="5" rx="1.2" fill="#ff8030"/><rect x="342.54" y="410.25" width="5.2" height="5" rx="1.2" fill="#ff8030"/><rect x="350.37" y="398.49" width="5.2" height="5" rx="1.2" fill="#ff8030"/><rect x="358.20" y="375.08" width="5.2" height="5" rx="1.2" fill="#ff8030"/></g>
<g clip-path="url(#cr)"><polyline points="55.42,412.75 63.25,413.59 71.08,390.87 78.91,422.66 86.74,385.67 94.57,370.31 102.40,380.56 110.23,418.23 118.06,376.82 125.89,401.45 133.72,407.21 141.55,411.72 149.38,393.58 157.21,416.04 165.04,395.52 172.87,410.19 180.70,384.76 188.53,399.37 196.36,413.38 204.19,396.82 212.02,406.53 219.85,398.57 227.68,400.72 235.51,408.19 243.35,414.43 251.18,404.71 259.01,409.79 266.84,394.76 274.67,398.57 282.50,400.27 290.33,390.87 298.16,401.81 305.99,406.53 313.82,391.60 321.65,388.55 329.48,390.87 337.31,389.26 345.14,391.60 352.97,390.87 360.80,385.37" fill="none" stroke="#0000e0" stroke-width="1.0"/><path d="M55.42,395.53V434.22M53.92,395.53h3M53.92,434.22h3" stroke="#0000e0" stroke-width="0.9"/><path d="M63.25,396.71V434.52M61.75,396.71h3M61.75,434.52h3" stroke="#0000e0" stroke-width="0.9"/><path d="M71.08,376.16V408.55M69.58,376.16h3M69.58,408.55h3" stroke="#0000e0" stroke-width="0.9"/><path d="M78.91,405.56V443.93M77.41,405.56h3M77.41,443.93h3" stroke="#0000e0" stroke-width="0.9"/><path d="M86.74,371.77V402.22M85.24,371.77h3M85.24,402.22h3" stroke="#0000e0" stroke-width="0.9"/><path d="M94.57,357.64V385.12M93.07,357.64h3M93.07,385.12h3" stroke="#0000e0" stroke-width="0.9"/><path d="M102.40,367.36V396.11M100.90,367.36h3M100.90,396.11h3" stroke="#0000e0" stroke-width="0.9"/><path d="M110.23,402.36V437.63M108.73,402.36h3M108.73,437.63h3" stroke="#0000e0" stroke-width="0.9"/><path d="M118.06,364.27V391.48M116.56,364.27h3M116.56,391.48h3" stroke="#0000e0" stroke-width="0.9"/><path d="M125.89,387.41V418.17M124.39,387.41h3M124.39,418.17h3" stroke="#0000e0" stroke-width="0.9"/><path d="M133.72,393.06V424.10M132.22,393.06h3M132.22,424.10h3" stroke="#0000e0" stroke-width="0.9"/><path d="M141.55,397.58V428.59M140.05,397.58h3M140.05,428.59h3" stroke="#0000e0" stroke-width="0.9"/><path d="M149.38,381.10V408.15M147.88,381.10h3M147.88,408.15h3" stroke="#0000e0" stroke-width="0.9"/><path d="M157.21,402.41V432.19M155.71,402.41h3M155.71,432.19h3" stroke="#0000e0" stroke-width="0.9"/><path d="M165.04,383.72V409.17M163.54,383.72h3M163.54,409.17h3" stroke="#0000e0" stroke-width="0.9"/><path d="M172.87,397.90V424.49M171.37,397.90h3M171.37,424.49h3" stroke="#0000e0" stroke-width="0.9"/><path d="M180.70,374.46V396.44M179.20,374.46h3M179.20,396.44h3" stroke="#0000e0" stroke-width="0.9"/><path d="M188.53,388.69V411.53M187.03,388.69h3M187.03,411.53h3" stroke="#0000e0" stroke-width="0.9"/><path d="M196.36,402.38V425.97M194.86,402.38h3M194.86,425.97h3" stroke="#0000e0" stroke-width="0.9"/><path d="M204.19,387.22V407.60M202.69,387.22h3M202.69,407.60h3" stroke="#0000e0" stroke-width="0.9"/><path d="M212.02,396.90V417.35M210.52,396.90h3M210.52,417.35h3" stroke="#0000e0" stroke-width="0.9"/><path d="M219.85,389.80V408.31M218.35,389.80h3M218.35,408.31h3" stroke="#0000e0" stroke-width="0.9"/><path d="M227.68,392.30V410.03M226.18,392.30h3M226.18,410.03h3" stroke="#0000e0" stroke-width="0.9"/><path d="M235.51,399.89V417.37M234.01,399.89h3M234.01,417.37h3" stroke="#0000e0" stroke-width="0.9"/><path d="M243.35,406.31V423.39M241.85,406.31h3M241.85,423.39h3" stroke="#0000e0" stroke-width="0.9"/><path d="M251.18,397.45V412.62M249.68,397.45h3M249.68,412.62h3" stroke="#0000e0" stroke-width="0.9"/><path d="M259.01,402.78V417.41M257.51,402.78h3M257.51,417.41h3" stroke="#0000e0" stroke-width="0.9"/><path d="M266.84,388.72V401.24M265.34,388.72h3M265.34,401.24h3" stroke="#0000e0" stroke-width="0.9"/><path d="M274.67,392.83V404.71M273.17,392.83h3M273.17,404.71h3" stroke="#0000e0" stroke-width="0.9"/><path d="M282.50,394.91V405.97M281.00,394.91h3M281.00,405.97h3" stroke="#0000e0" stroke-width="0.9"/><path d="M290.33,386.21V395.78M288.83,386.21h3M288.83,395.78h3" stroke="#0000e0" stroke-width="0.9"/><path d="M298.16,397.32V406.55M296.66,397.32h3M296.66,406.55h3" stroke="#0000e0" stroke-width="0.9"/><path d="M305.99,402.40V410.86M304.49,402.40h3M304.49,410.86h3" stroke="#0000e0" stroke-width="0.9"/><path d="M313.82,388.25V395.08M312.32,388.25h3M312.32,395.08h3" stroke="#0000e0" stroke-width="0.9"/><path d="M321.65,385.70V391.49M320.15,385.70h3M320.15,391.49h3" stroke="#0000e0" stroke-width="0.9"/><path d="M329.48,388.43V393.37M327.98,388.43h3M327.98,393.37h3" stroke="#0000e0" stroke-width="0.9"/><path d="M337.31,387.27V391.30M335.81,387.27h3M335.81,391.30h3" stroke="#0000e0" stroke-width="0.9"/><path d="M345.14,389.99V393.24M343.64,389.99h3M343.64,393.24h3" stroke="#0000e0" stroke-width="0.9"/><path d="M352.97,389.55V392.20M351.47,389.55h3M351.47,392.20h3" stroke="#0000e0" stroke-width="0.9"/><path d="M360.80,384.09V386.66M359.30,384.09h3M359.30,386.66h3" stroke="#0000e0" stroke-width="0.9"/><path d="M55.42,409.55 L58.42,415.05 L52.42,415.05 Z" fill="#0000e0"/><path d="M63.25,410.39 L66.25,415.89 L60.25,415.89 Z" fill="#0000e0"/><path d="M71.08,387.67 L74.08,393.17 L68.08,393.17 Z" fill="#0000e0"/><path d="M78.91,419.46 L81.91,424.96 L75.91,424.96 Z" fill="#0000e0"/><path d="M86.74,382.47 L89.74,387.97 L83.74,387.97 Z" fill="#0000e0"/><path d="M94.57,367.11 L97.57,372.61 L91.57,372.61 Z" fill="#0000e0"/><path d="M102.40,377.36 L105.40,382.86 L99.40,382.86 Z" fill="#0000e0"/><path d="M110.23,415.03 L113.23,420.53 L107.23,420.53 Z" fill="#0000e0"/><path d="M118.06,373.62 L121.06,379.12 L115.06,379.12 Z" fill="#0000e0"/><path d="M125.89,398.25 L128.89,403.75 L122.89,403.75 Z" fill="#0000e0"/><path d="M133.72,404.01 L136.72,409.51 L130.72,409.51 Z" fill="#0000e0"/><path d="M141.55,408.52 L144.55,414.02 L138.55,414.02 Z" fill="#0000e0"/><path d="M149.38,390.38 L152.38,395.88 L146.38,395.88 Z" fill="#0000e0"/><path d="M157.21,412.84 L160.21,418.34 L154.21,418.34 Z" fill="#0000e0"/><path d="M165.04,392.32 L168.04,397.82 L162.04,397.82 Z" fill="#0000e0"/><path d="M172.87,406.99 L175.87,412.49 L169.87,412.49 Z" fill="#0000e0"/><path d="M180.70,381.56 L183.70,387.06 L177.70,387.06 Z" fill="#0000e0"/><path d="M188.53,396.17 L191.53,401.67 L185.53,401.67 Z" fill="#0000e0"/><path d="M196.36,410.18 L199.36,415.68 L193.36,415.68 Z" fill="#0000e0"/><path d="M204.19,393.62 L207.19,399.12 L201.19,399.12 Z" fill="#0000e0"/><path d="M212.02,403.33 L215.02,408.83 L209.02,408.83 Z" fill="#0000e0"/><path d="M219.85,395.37 L222.85,400.87 L216.85,400.87 Z" fill="#0000e0"/><path d="M227.68,397.52 L230.68,403.02 L224.68,403.02 Z" fill="#0000e0"/><path d="M235.51,404.99 L238.51,410.49 L232.51,410.49 Z" fill="#0000e0"/><path d="M243.35,411.23 L246.35,416.73 L240.35,416.73 Z" fill="#0000e0"/><path d="M251.18,401.51 L254.18,407.01 L248.18,407.01 Z" fill="#0000e0"/><path d="M259.01,406.59 L262.01,412.09 L256.01,412.09 Z" fill="#0000e0"/><path d="M266.84,391.56 L269.84,397.06 L263.84,397.06 Z" fill="#0000e0"/><path d="M274.67,395.37 L277.67,400.87 L271.67,400.87 Z" fill="#0000e0"/><path d="M282.50,397.07 L285.50,402.57 L279.50,402.57 Z" fill="#0000e0"/><path d="M290.33,387.67 L293.33,393.17 L287.33,393.17 Z" fill="#0000e0"/><path d="M298.16,398.61 L301.16,404.11 L295.16,404.11 Z" fill="#0000e0"/><path d="M305.99,403.33 L308.99,408.83 L302.99,408.83 Z" fill="#0000e0"/><path d="M313.82,388.40 L316.82,393.90 L310.82,393.90 Z" fill="#0000e0"/><path d="M321.65,385.35 L324.65,390.85 L318.65,390.85 Z" fill="#0000e0"/><path d="M329.48,387.67 L332.48,393.17 L326.48,393.17 Z" fill="#0000e0"/><path d="M337.31,386.06 L340.31,391.56 L334.31,391.56 Z" fill="#0000e0"/><path d="M345.14,388.40 L348.14,393.90 L342.14,393.90 Z" fill="#0000e0"/><path d="M352.97,387.67 L355.97,393.17 L349.97,393.17 Z" fill="#0000e0"/><path d="M360.80,382.17 L363.80,387.67 L357.80,387.67 Z" fill="#0000e0"/></g>
<rect x="45.5" y="17.5" width="326.0" height="300.0" fill="none" stroke="#000" stroke-width="1.3"/>
<rect x="45.5" y="317.5" width="326.0" height="160.0" fill="none" stroke="#000" stroke-width="1.3"/>
<path d="M51.50,17.5v8.2M51.50,317.5v-8.2M51.50,317.5v4.6M51.50,477.5v-4.6M61.47,17.5v2.5M61.47,317.5v-2.5M61.47,317.5v1.2M61.47,477.5v-1.2M71.44,17.5v4.0M71.44,317.5v-4.0M71.44,317.5v2.3M71.44,477.5v-2.3M81.41,17.5v2.5M81.41,317.5v-2.5M81.41,317.5v1.2M81.41,477.5v-1.2M91.38,17.5v4.0M91.38,317.5v-4.0M91.38,317.5v2.3M91.38,477.5v-2.3M101.35,17.5v2.5M101.35,317.5v-2.5M101.35,317.5v1.2M101.35,477.5v-1.2M111.32,17.5v4.0M111.32,317.5v-4.0M111.32,317.5v2.3M111.32,477.5v-2.3M121.29,17.5v2.5M121.29,317.5v-2.5M121.29,317.5v1.2M121.29,477.5v-1.2M131.26,17.5v4.0M131.26,317.5v-4.0M131.26,317.5v2.3M131.26,477.5v-2.3M141.23,17.5v2.5M141.23,317.5v-2.5M141.23,317.5v1.2M141.23,477.5v-1.2M151.20,17.5v8.2M151.20,317.5v-8.2M151.20,317.5v4.6M151.20,477.5v-4.6M161.17,17.5v2.5M161.17,317.5v-2.5M161.17,317.5v1.2M161.17,477.5v-1.2M171.14,17.5v4.0M171.14,317.5v-4.0M171.14,317.5v2.3M171.14,477.5v-2.3M181.11,17.5v2.5M181.11,317.5v-2.5M181.11,317.5v1.2M181.11,477.5v-1.2M191.08,17.5v4.0M191.08,317.5v-4.0M191.08,317.5v2.3M191.08,477.5v-2.3M201.05,17.5v2.5M201.05,317.5v-2.5M201.05,317.5v1.2M201.05,477.5v-1.2M211.02,17.5v4.0M211.02,317.5v-4.0M211.02,317.5v2.3M211.02,477.5v-2.3M220.99,17.5v2.5M220.99,317.5v-2.5M220.99,317.5v1.2M220.99,477.5v-1.2M230.96,17.5v4.0M230.96,317.5v-4.0M230.96,317.5v2.3M230.96,477.5v-2.3M240.93,17.5v2.5M240.93,317.5v-2.5M240.93,317.5v1.2M240.93,477.5v-1.2M250.90,17.5v8.2M250.90,317.5v-8.2M250.90,317.5v4.6M250.90,477.5v-4.6M260.87,17.5v2.5M260.87,317.5v-2.5M260.87,317.5v1.2M260.87,477.5v-1.2M270.84,17.5v4.0M270.84,317.5v-4.0M270.84,317.5v2.3M270.84,477.5v-2.3M280.81,17.5v2.5M280.81,317.5v-2.5M280.81,317.5v1.2M280.81,477.5v-1.2M290.78,17.5v4.0M290.78,317.5v-4.0M290.78,317.5v2.3M290.78,477.5v-2.3M300.75,17.5v2.5M300.75,317.5v-2.5M300.75,317.5v1.2M300.75,477.5v-1.2M310.72,17.5v4.0M310.72,317.5v-4.0M310.72,317.5v2.3M310.72,477.5v-2.3M320.69,17.5v2.5M320.69,317.5v-2.5M320.69,317.5v1.2M320.69,477.5v-1.2M330.66,17.5v4.0M330.66,317.5v-4.0M330.66,317.5v2.3M330.66,477.5v-2.3M340.63,17.5v2.5M340.63,317.5v-2.5M340.63,317.5v1.2M340.63,477.5v-1.2M350.60,17.5v8.2M350.60,317.5v-8.2M350.60,317.5v4.6M350.60,477.5v-4.6M360.57,17.5v2.5M360.57,317.5v-2.5M360.57,317.5v1.2M360.57,477.5v-1.2M45.5,313.36h5.5M371.5,313.36h-5.5M45.5,305.94h5.5M371.5,305.94h-5.5M45.5,300.18h5.5M371.5,300.18h-5.5M45.5,295.48h5.5M371.5,295.48h-5.5M45.5,291.50h5.5M371.5,291.50h-5.5M45.5,288.06h5.5M371.5,288.06h-5.5M45.5,285.02h5.5M371.5,285.02h-5.5M45.5,282.30h11.3M371.5,282.30h-11.3M45.5,264.42h5.5M371.5,264.42h-5.5M45.5,253.96h5.5M371.5,253.96h-5.5M45.5,246.54h5.5M371.5,246.54h-5.5M45.5,240.78h5.5M371.5,240.78h-5.5M45.5,236.08h5.5M371.5,236.08h-5.5M45.5,232.10h5.5M371.5,232.10h-5.5M45.5,228.66h5.5M371.5,228.66h-5.5M45.5,225.62h5.5M371.5,225.62h-5.5M45.5,222.90h11.3M371.5,222.90h-11.3M45.5,205.02h5.5M371.5,205.02h-5.5M45.5,194.56h5.5M371.5,194.56h-5.5M45.5,187.14h5.5M371.5,187.14h-5.5M45.5,181.38h5.5M371.5,181.38h-5.5M45.5,176.68h5.5M371.5,176.68h-5.5M45.5,172.70h5.5M371.5,172.70h-5.5M45.5,169.26h5.5M371.5,169.26h-5.5M45.5,166.22h5.5M371.5,166.22h-5.5M45.5,163.50h11.3M371.5,163.50h-11.3M45.5,145.62h5.5M371.5,145.62h-5.5M45.5,135.16h5.5M371.5,135.16h-5.5M45.5,127.74h5.5M371.5,127.74h-5.5M45.5,121.98h5.5M371.5,121.98h-5.5M45.5,117.28h5.5M371.5,117.28h-5.5M45.5,113.30h5.5M371.5,113.30h-5.5M45.5,109.86h5.5M371.5,109.86h-5.5M45.5,106.82h5.5M371.5,106.82h-5.5M45.5,104.10h11.3M371.5,104.10h-11.3M45.5,86.22h5.5M371.5,86.22h-5.5M45.5,75.76h5.5M371.5,75.76h-5.5M45.5,68.34h5.5M371.5,68.34h-5.5M45.5,62.58h5.5M371.5,62.58h-5.5M45.5,57.88h5.5M371.5,57.88h-5.5M45.5,53.90h5.5M371.5,53.90h-5.5M45.5,50.46h5.5M371.5,50.46h-5.5M45.5,47.42h5.5M371.5,47.42h-5.5M45.5,44.70h11.3M371.5,44.70h-11.3M45.5,26.82h5.5M371.5,26.82h-5.5M45.5,458.26h7M371.5,458.26h-7M45.5,442.30h5M371.5,442.30h-5M45.5,428.81h5M371.5,428.81h-5M45.5,417.13h5M371.5,417.13h-5M45.5,406.82h5M371.5,406.82h-5M45.5,397.60h7M371.5,397.60h-7M45.5,389.26h5M371.5,389.26h-5M45.5,381.64h5M371.5,381.64h-5M45.5,374.64h5M371.5,374.64h-5M45.5,368.16h5M371.5,368.16h-5M45.5,362.12h5M371.5,362.12h-5M45.5,356.47h5M371.5,356.47h-5M45.5,351.16h5M371.5,351.16h-5M45.5,346.16h5M371.5,346.16h-5M45.5,341.43h5M371.5,341.43h-5M45.5,336.94h7M371.5,336.94h-7M45.5,332.67h5M371.5,332.67h-5M45.5,328.60h5M371.5,328.60h-5M45.5,324.71h5M371.5,324.71h-5M45.5,320.99h5M371.5,320.99h-5" stroke="#000" stroke-width="1.0" fill="none"/>
<g font-size="12" fill="#000">
<text x="52" y="14.3">1960 GeV ppbar</text>
<text x="367.8" y="14.3" text-anchor="end">Top (parton level)</text>
</g>
<g fill="#000">
<text x="34.1" y="49.90" font-size="10.6" text-anchor="end">10</text>
<text x="34.6" y="45.00" font-size="7.2">2</text>
<text x="40.3" y="108.90" font-size="10.6" text-anchor="end">10</text>
<text x="39.6" y="167.90" font-size="10.6" text-anchor="end">1</text>
<text x="32.3" y="227.80" font-size="10.6" text-anchor="end">10</text>
<text x="32.9" y="223.50" font-size="7.2">−1</text>
<text x="30.1" y="287.80" font-size="10.6" text-anchor="end">10</text>
<text x="31.0" y="283.00" font-size="7.2">−2</text>
</g>
<g font-size="11" fill="#000" text-anchor="end">
<text x="38" y="340.9">2</text>
<text x="38" y="401.6">1</text>
<text x="38" y="462.3">0.5</text>
</g>
<g font-size="11" fill="#000">
<text x="374" y="340.9">2</text>
<text x="374" y="401.6">1</text>
<text x="373" y="462.3">0.5</text>
</g>
<g font-size="11" fill="#000" text-anchor="middle">
<text x="51.5" y="489">0</text>
<text x="151.2" y="489">1</text>
<text x="250.9" y="489">2</text>
<text x="350.6" y="489">3</text>
</g>
<text y="42.3" font-size="9.6" letter-spacing="0.3" fill="#000"><tspan x="147">Δ</tspan><tspan x="153.7" y="43.3" font-size="11">ϕ</tspan><tspan x="163" y="42.3">(ttbar)</tspan><tspan x="192.8">(Mtt</tspan><tspan x="212.2">&lt;</tspan><tspan x="220.6">450</tspan><tspan x="240.3">dy</tspan><tspan x="253.8">&lt;</tspan><tspan x="262.6">0)</tspan></text>
<text x="174" y="302.8" font-size="8" fill="#a0a0a0">(MC_FBA_TTBAR)</text>
<text transform="translate(380,128.1) rotate(-90)" font-size="9.5" fill="#666">Rivet 4.1.0, ≥ 100k events</text>
<text transform="translate(381,315) rotate(-90)" font-size="9.5" fill="#666">mcplots.cern.ch [arXiv:2401.10621]</text>
<text transform="translate(17.3,446.4) rotate(-90)" font-size="9" fill="#000">Ratio to Pythia 6.428 345</text>
<path d="M64,62.1H73.6M79,62.1H88.5" stroke="#c8284f" stroke-width="1.0" stroke-dasharray="2.2,1.8"/>
<circle cx="76.30" cy="62.10" r="2.3" fill="none" stroke="#c8284f" stroke-width="1.1"/>
<text x="94" y="65.50" font-size="9.5" fill="#000">Pythia 6.428 345</text>
<path d="M64,75.05H73.6M79,75.05H88.5" stroke="#bb9a5c" stroke-width="1.0" stroke-dasharray="1,1.5"/>
<rect x="73.90" y="72.65" width="4.8" height="4.8" fill="none" stroke="#bb9a5c" stroke-width="1.1"/>
<text x="94" y="78.45" font-size="9.5" fill="#000">Pythia 6.428 346</text>
<path d="M64,87.9H73.6M79,87.9H88.5" stroke="#a01e3c" stroke-width="1.0"/>
<path d="M76.30,84.50 L79.50,90.30 L73.10,90.30 Z" fill="none" stroke="#a01e3c" stroke-width="1.1"/>
<text x="94" y="91.30" font-size="9.5" fill="#000">Pythia 6.428 370</text>
<path d="M64,101.1H88.5" stroke="#ff8030" stroke-width="1.0" stroke-dasharray="3,1.5,1,1.5"/>
<rect x="73.70" y="98.60" width="5.2" height="5" rx="1.2" fill="#ff8030"/>
<text x="94" y="104.50" font-size="9.5" fill="#000">Pythia 6.428 default</text>
<path d="M64,114.3H88.5" stroke="#0000e0" stroke-width="1.0"/>
<path d="M76.30,111.10 L79.30,116.60 L73.30,116.60 Z" fill="#0000e0"/>
<text x="94" y="117.70" font-size="9.5" fill="#000">Pythia 8.315 default</text>
</svg></body></html>
